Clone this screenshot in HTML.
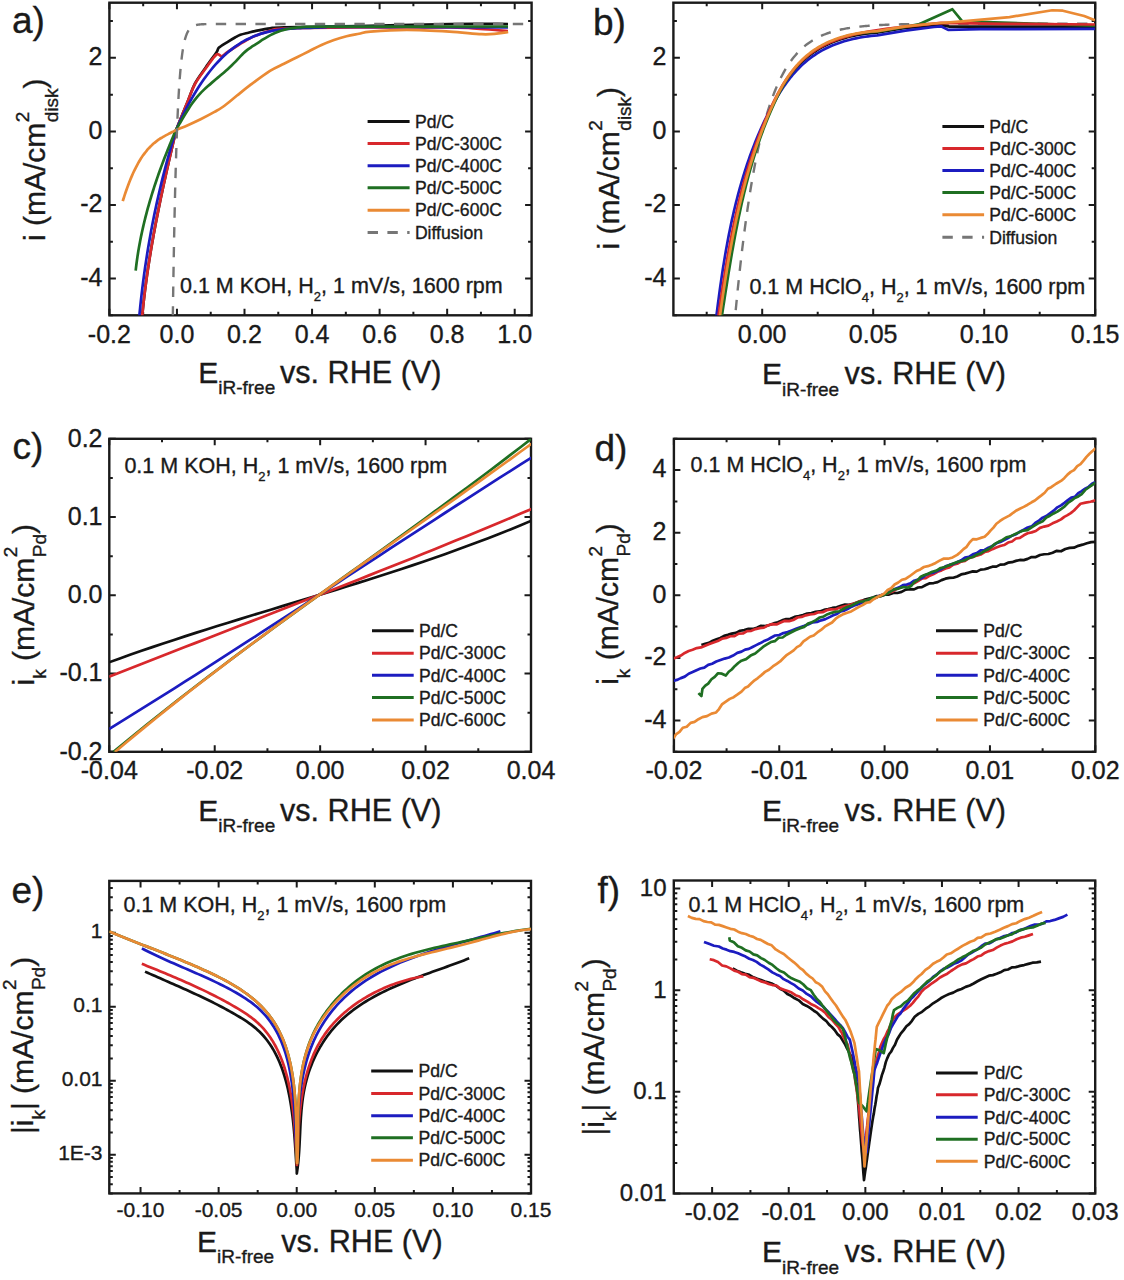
<!DOCTYPE html>
<html><head><meta charset="utf-8"><style>
html,body{margin:0;padding:0;background:#fff;}
svg{display:block;}
text{font-family:"Liberation Sans", sans-serif;fill:#1a1a1a;stroke:#1a1a1a;stroke-width:0.35px;}
</style></head><body>
<svg width="1124" height="1280" viewBox="0 0 1124 1280">
<rect width="1124" height="1280" fill="#fff"/>
<clipPath id="clipa"><rect x="109.4" y="2.7" width="422.2" height="312.6"/></clipPath>
<path d="M109.4 315.3v-6.5M109.4 2.7v6.5M176.95 315.3v-6.5M176.95 2.7v6.5M244.5 315.3v-6.5M244.5 2.7v6.5M312.06 315.3v-6.5M312.06 2.7v6.5M379.61 315.3v-6.5M379.61 2.7v6.5M447.16 315.3v-6.5M447.16 2.7v6.5M514.71 315.3v-6.5M514.71 2.7v6.5M143.18 315.3v-3.5M143.18 2.7v3.5M210.73 315.3v-3.5M210.73 2.7v3.5M278.28 315.3v-3.5M278.28 2.7v3.5M345.83 315.3v-3.5M345.83 2.7v3.5M413.38 315.3v-3.5M413.38 2.7v3.5M480.94 315.3v-3.5M480.94 2.7v3.5M109.4 278.52h6.5M531.6 278.52h-6.5M109.4 204.97h6.5M531.6 204.97h-6.5M109.4 131.42h6.5M531.6 131.42h-6.5M109.4 57.86h6.5M531.6 57.86h-6.5M109.4 315.3h3.5M531.6 315.3h-3.5M109.4 241.75h3.5M531.6 241.75h-3.5M109.4 168.19h3.5M531.6 168.19h-3.5M109.4 94.64h3.5M531.6 94.64h-3.5M109.4 21.09h3.5M531.6 21.09h-3.5" stroke="#1a1a1a" stroke-width="2" fill="none"/>
<rect x="109.4" y="2.7" width="422.2" height="312.6" fill="none" stroke="#1a1a1a" stroke-width="2.4"/>
<text x="109.4" y="343.2" font-size="25" text-anchor="middle">-0.2</text>
<text x="176.95" y="343.2" font-size="25" text-anchor="middle">0.0</text>
<text x="244.5" y="343.2" font-size="25" text-anchor="middle">0.2</text>
<text x="312.06" y="343.2" font-size="25" text-anchor="middle">0.4</text>
<text x="379.61" y="343.2" font-size="25" text-anchor="middle">0.6</text>
<text x="447.16" y="343.2" font-size="25" text-anchor="middle">0.8</text>
<text x="514.71" y="343.2" font-size="25" text-anchor="middle">1.0</text>
<text x="102.5" y="65.06" font-size="25" text-anchor="end">2</text>
<text x="102.5" y="138.62" font-size="25" text-anchor="end">0</text>
<text x="102.5" y="212.17" font-size="25" text-anchor="end">-2</text>
<text x="102.5" y="285.72" font-size="25" text-anchor="end">-4</text>
<path d="M141.04 330C141.13 328.85 141.39 325.41 141.58 323.11C141.77 320.81 141.97 318.52 142.18 316.22C142.39 313.92 142.62 311.63 142.85 309.33C143.08 307.03 143.32 304.74 143.58 302.44C143.83 300.14 144.09 297.85 144.36 295.55C144.64 293.26 144.92 290.96 145.21 288.66C145.5 286.37 145.8 284.07 146.11 281.77C146.42 279.48 146.74 277.18 147.07 274.88C147.4 272.59 147.73 270.29 148.08 267.99C148.42 265.7 148.78 263.4 149.14 261.1C149.5 258.81 149.87 256.51 150.24 254.21C150.62 251.92 151.01 249.62 151.4 247.32C151.79 245.03 152.19 242.73 152.59 240.43C153 238.14 153.41 235.84 153.83 233.54C154.25 231.25 154.68 228.95 155.11 226.66C155.55 224.36 155.99 222.06 156.43 219.77C156.88 217.47 157.33 215.17 157.79 212.88C158.24 210.58 158.71 208.28 159.18 205.99C159.64 203.69 160.12 201.39 160.6 199.1C161.08 196.8 161.56 194.5 162.05 192.21C162.54 189.91 163.03 187.61 163.53 185.32C164.03 183.02 164.53 180.72 165.03 178.43C165.54 176.13 166.05 173.83 166.56 171.54C167.08 169.24 167.6 166.94 168.12 164.65C168.64 162.35 169.16 160.06 169.69 157.76C170.22 155.46 170.75 153.17 171.28 150.87C171.82 148.57 172.35 146.28 172.89 143.98C173.43 141.68 173.97 139.39 174.51 137.09C175.06 134.79 173.93 136.18 176.15 130.2C178.36 124.22 184.66 109 187.8 101.2C190.94 93.4 192.02 89.03 195 83.4C197.98 77.77 202.13 72.57 205.7 67.4C209.27 62.23 214.18 55.7 216.4 52.4C218.62 49.1 217.23 49.28 219 47.6C220.77 45.92 224.33 43.98 227 42.3C229.67 40.62 232.77 38.75 235 37.5C237.23 36.25 238.17 35.6 240.4 34.8C242.63 34 245.97 33.32 248.4 32.7C250.83 32.08 251.4 31.83 255 31.1C258.6 30.37 265.17 28.93 270 28.3C274.83 27.67 269.17 27.68 284 27.3C298.83 26.92 331.33 26.55 359 26C386.67 25.45 425.17 24.33 450 24C474.83 23.67 498.33 24 508 24" stroke="#111111" stroke-width="2.7" fill="none" stroke-linejoin="round" clip-path="url(#clipa)"/>
<path d="M141.04 330C141.13 328.85 141.39 325.41 141.58 323.11C141.77 320.81 141.97 318.52 142.18 316.22C142.39 313.92 142.62 311.63 142.85 309.33C143.08 307.03 143.32 304.74 143.58 302.44C143.83 300.14 144.09 297.85 144.36 295.55C144.64 293.26 144.92 290.96 145.21 288.66C145.5 286.37 145.8 284.07 146.11 281.77C146.42 279.48 146.74 277.18 147.07 274.88C147.4 272.59 147.73 270.29 148.08 267.99C148.42 265.7 148.78 263.4 149.14 261.1C149.5 258.81 149.87 256.51 150.24 254.21C150.62 251.92 151.01 249.62 151.4 247.32C151.79 245.03 152.19 242.73 152.59 240.43C153 238.14 153.41 235.84 153.83 233.54C154.25 231.25 154.68 228.95 155.11 226.66C155.55 224.36 155.99 222.06 156.43 219.77C156.88 217.47 157.33 215.17 157.79 212.88C158.24 210.58 158.71 208.28 159.18 205.99C159.64 203.69 160.12 201.39 160.6 199.1C161.08 196.8 161.56 194.5 162.05 192.21C162.54 189.91 163.03 187.61 163.53 185.32C164.03 183.02 164.53 180.72 165.03 178.43C165.54 176.13 166.05 173.83 166.56 171.54C167.08 169.24 167.6 166.94 168.12 164.65C168.64 162.35 169.16 160.06 169.69 157.76C170.22 155.46 170.75 153.17 171.28 150.87C171.82 148.57 172.35 146.28 172.89 143.98C173.43 141.68 173.97 139.39 174.51 137.09C175.06 134.79 173.93 136.18 176.15 130.2C178.36 124.22 184.66 108.9 187.8 101.2C190.94 93.5 192.02 89.45 195 84C197.98 78.55 202.13 73.4 205.7 68.5C209.27 63.6 213.73 56.65 216.4 54.6C219.07 52.55 219.93 56.57 221.7 56.2C223.47 55.83 224.33 54.18 227 52.4C229.67 50.62 234.13 47.72 237.7 45.5C241.27 43.28 245.52 40.7 248.4 39.1C251.28 37.5 251.4 37.27 255 35.9C258.6 34.53 265.17 32.13 270 30.9C274.83 29.67 269.17 29.07 284 28.5C298.83 27.93 331.33 27.67 359 27.5C386.67 27.33 429.83 27.25 450 27.5C470.17 27.75 470.33 28.42 480 29C489.67 29.58 503.33 30.67 508 31" stroke="#d8282c" stroke-width="2.7" fill="none" stroke-linejoin="round" clip-path="url(#clipa)"/>
<path d="M138.1 330C138.19 328.85 138.48 325.41 138.68 323.11C138.88 320.81 139.09 318.52 139.3 316.22C139.52 313.92 139.74 311.63 139.98 309.33C140.21 307.03 140.45 304.74 140.7 302.44C140.94 300.14 141.2 297.85 141.46 295.55C141.73 293.26 142 290.96 142.28 288.66C142.56 286.37 142.85 284.07 143.15 281.77C143.44 279.48 143.75 277.18 144.06 274.88C144.38 272.59 144.7 270.29 145.03 267.99C145.36 265.7 145.7 263.4 146.05 261.1C146.4 258.81 146.75 256.51 147.12 254.21C147.48 251.92 147.86 249.62 148.24 247.32C148.62 245.03 149.02 242.73 149.42 240.43C149.82 238.14 150.23 235.84 150.65 233.54C151.07 231.25 151.5 228.95 151.93 226.66C152.37 224.36 152.82 222.06 153.28 219.77C153.73 217.47 154.2 215.17 154.67 212.88C155.15 210.58 155.63 208.28 156.13 205.99C156.62 203.69 157.13 201.39 157.64 199.1C158.15 196.8 158.68 194.5 159.21 192.21C159.74 189.91 160.29 187.61 160.84 185.32C161.39 183.02 161.96 180.72 162.53 178.43C163.1 176.13 163.69 173.83 164.28 171.54C164.87 169.24 165.48 166.94 166.09 164.65C166.71 162.35 167.33 160.06 167.97 157.76C168.6 155.46 169.25 153.17 169.9 150.87C170.56 148.57 171.22 146.28 171.9 143.98C172.58 141.68 173.27 139.39 173.96 137.09C174.66 134.79 175.01 133 176.09 130.2C177.17 127.4 179.06 123.26 180.44 120.27C181.82 117.28 183.06 114.84 184.37 112.24C185.68 109.65 187 107.13 188.31 104.7C189.62 102.26 190.93 99.91 192.24 97.62C193.56 95.34 194.87 93.14 196.18 91C197.49 88.87 198.8 86.81 200.12 84.82C201.43 82.83 202.74 80.92 204.05 79.07C205.36 77.22 206.68 75.44 207.99 73.72C209.3 72 210.61 70.35 211.92 68.76C213.24 67.17 214.55 65.65 215.86 64.19C217.17 62.72 218.48 61.32 219.79 59.97C221.11 58.62 222.42 57.34 223.73 56.1C225.04 54.87 226.35 53.69 227.67 52.56C228.98 51.44 230.29 50.37 231.6 49.34C232.91 48.32 234.23 47.35 235.54 46.43C236.85 45.5 238.16 44.62 239.47 43.79C240.79 42.96 242.1 42.17 243.41 41.43C244.72 40.68 246.03 39.98 247.35 39.32C248.66 38.66 249.97 38.04 251.28 37.45C252.59 36.87 253.91 36.32 255.22 35.81C256.53 35.3 257.84 34.82 259.15 34.37C260.47 33.93 261.78 33.52 263.09 33.13C264.4 32.75 265.71 32.4 267.03 32.07C268.34 31.74 269.65 31.45 270.96 31.17C272.27 30.9 273.59 30.65 274.9 30.42C276.21 30.19 277.52 29.99 278.83 29.8C280.15 29.61 281.46 29.45 282.77 29.3C284.08 29.15 285.39 29.02 286.71 28.9C288.02 28.78 289.33 28.68 290.64 28.59C291.95 28.5 293.26 28.42 294.58 28.35C295.89 28.27 297.2 28.22 298.51 28.16C299.82 28.11 301.14 28.06 302.45 28.02C303.76 27.97 305.07 27.93 306.38 27.9C307.7 27.86 309.01 27.82 310.32 27.79C311.63 27.75 312.94 27.71 314.26 27.67C315.57 27.63 316.88 27.59 318.19 27.54C319.5 27.48 320.82 27.43 322.13 27.36C323.44 27.3 324.75 27.23 326.06 27.14C327.38 27.06 299.68 26.79 330 26.85C360.32 26.91 478.33 27.39 508 27.5" stroke="#1c1cc0" stroke-width="2.7" fill="none" stroke-linejoin="round" clip-path="url(#clipa)"/>
<path d="M135.67 270.7C135.76 269.89 136.03 267.47 136.22 265.86C136.42 264.24 136.63 262.63 136.85 261.01C137.07 259.4 137.3 257.78 137.54 256.17C137.78 254.55 138.04 252.94 138.3 251.32C138.57 249.71 138.84 248.09 139.13 246.48C139.42 244.86 139.71 243.25 140.02 241.63C140.33 240.02 140.65 238.4 140.98 236.79C141.31 235.17 141.65 233.56 142 231.94C142.35 230.33 142.71 228.71 143.08 227.1C143.45 225.48 143.83 223.87 144.22 222.25C144.61 220.64 145.01 219.02 145.42 217.41C145.82 215.79 146.24 214.18 146.67 212.56C147.1 210.95 147.54 209.33 147.99 207.72C148.44 206.1 148.89 204.49 149.36 202.87C149.82 201.26 150.3 199.64 150.78 198.03C151.27 196.41 151.76 194.8 152.26 193.18C152.76 191.57 153.28 189.95 153.79 188.34C154.31 186.72 154.84 185.11 155.38 183.49C155.91 181.88 156.46 180.26 157.01 178.65C157.56 177.03 158.13 175.42 158.69 173.8C159.26 172.19 159.84 170.57 160.43 168.96C161.01 167.34 161.6 165.73 162.2 164.11C162.8 162.5 163.41 160.88 164.03 159.27C164.64 157.65 165.27 156.04 165.9 154.42C166.53 152.81 167.16 151.19 167.81 149.58C168.45 147.96 169.11 146.35 169.76 144.73C170.42 143.12 171.09 141.5 171.76 139.89C172.43 138.27 173.11 136.66 173.8 135.04C174.48 133.43 174.77 132.33 175.87 130.2C176.98 128.07 179.02 124.68 180.44 122.24C181.85 119.8 183.06 117.72 184.37 115.55C185.68 113.37 187 111.24 188.31 109.2C189.62 107.17 190.93 105.19 192.24 103.34C193.56 101.49 194.87 99.73 196.18 98.1C197.49 96.48 198.8 95 200.12 93.59C201.43 92.18 202.74 90.91 204.05 89.65C205.36 88.39 206.68 87.21 207.99 86.04C209.3 84.86 210.61 83.73 211.92 82.61C213.24 81.49 214.55 80.39 215.86 79.29C217.17 78.19 218.48 77.1 219.79 76C221.11 74.89 222.42 73.79 223.73 72.66C225.04 71.53 226.35 70.39 227.67 69.2C228.98 68.02 230.29 66.81 231.6 65.54C232.91 64.28 234.23 62.98 235.54 61.61C236.85 60.25 238.16 58.75 239.47 57.35C240.79 55.94 242.1 54.44 243.41 53.19C244.72 51.95 246.03 50.87 247.35 49.85C248.66 48.84 249.97 47.99 251.28 47.11C252.59 46.24 253.91 45.45 255.22 44.6C256.53 43.76 257.84 42.89 259.15 42.04C260.47 41.19 261.78 40.31 263.09 39.48C264.4 38.65 265.71 37.82 267.03 37.05C268.34 36.28 269.65 35.54 270.96 34.87C272.27 34.19 273.59 33.58 274.9 33.01C276.21 32.44 277.52 31.93 278.83 31.47C280.15 31 281.46 30.58 282.77 30.2C284.08 29.82 285.39 29.49 286.71 29.19C288.02 28.89 289.33 28.63 290.64 28.4C291.95 28.17 293.26 27.98 294.58 27.81C295.89 27.64 297.2 27.51 298.51 27.39C299.82 27.27 301.14 27.18 302.45 27.1C303.76 27.03 305.07 26.97 306.38 26.93C307.7 26.88 309.01 26.86 310.32 26.83C311.63 26.81 312.94 26.8 314.26 26.79C315.57 26.78 316.88 26.78 318.19 26.78C319.5 26.77 320.82 26.77 322.13 26.76C323.44 26.75 324.75 26.74 326.06 26.71C327.38 26.68 299.68 26.63 330 26.6C360.32 26.56 478.33 26.52 508 26.5" stroke="#1f6f22" stroke-width="2.7" fill="none" stroke-linejoin="round" clip-path="url(#clipa)"/>
<path d="M122.75 201.09C123.06 200.13 123.97 197.19 124.58 195.34C125.19 193.48 125.8 191.69 126.42 189.95C127.03 188.22 127.64 186.54 128.25 184.92C128.86 183.3 129.47 181.74 130.08 180.23C130.69 178.72 131.3 177.26 131.91 175.86C132.52 174.45 133.14 173.1 133.75 171.79C134.36 170.49 134.97 169.23 135.58 168.02C136.19 166.81 136.8 165.65 137.41 164.53C138.02 163.41 138.63 162.34 139.24 161.31C139.86 160.27 140.47 159.28 141.08 158.33C141.69 157.38 142.3 156.47 142.91 155.59C143.52 154.72 144.13 153.88 144.74 153.07C145.35 152.27 145.96 151.5 146.58 150.76C147.19 150.02 147.8 149.32 148.41 148.64C149.02 147.97 149.63 147.32 150.24 146.7C150.85 146.08 151.46 145.49 152.07 144.93C152.69 144.36 153.3 143.82 153.91 143.3C154.52 142.78 155.13 142.28 155.74 141.81C156.35 141.33 156.96 140.87 157.57 140.43C158.18 139.99 158.79 139.57 159.41 139.17C160.02 138.76 160.63 138.37 161.24 137.99C161.85 137.61 162.46 137.25 163.07 136.89C163.68 136.54 164.29 136.19 164.9 135.86C165.51 135.52 166.13 135.19 166.74 134.87C167.35 134.55 167.96 134.23 168.57 133.92C169.18 133.6 169.79 133.29 170.4 132.98C171.01 132.67 171.62 132.36 172.23 132.05C172.85 131.74 173.46 131.43 174.07 131.11C174.68 130.79 173.61 131.13 175.9 130.15C178.19 129.16 183.6 127.06 187.8 125.2C192 123.34 196.65 121.22 201.1 119C205.55 116.78 210.78 113.98 214.5 111.9C218.22 109.82 219.7 109.18 223.4 106.5C227.1 103.82 232.25 99.35 236.7 95.8C241.15 92.25 244.55 89.35 250.1 85.2C255.65 81.05 264.35 74.48 270 70.9C275.65 67.33 279.58 65.98 284 63.75C288.42 61.52 292.33 59.58 296.5 57.5C300.67 55.42 304.83 53.33 309 51.25C313.17 49.17 317.33 46.88 321.5 45C325.67 43.12 329.83 41.46 334 40C338.17 38.54 342.33 37.29 346.5 36.25C350.67 35.21 355 34.52 359 33.75C363 32.98 362.53 32.24 370.5 31.6C378.47 30.96 393.63 29.9 406.8 29.9C419.97 29.9 437.05 30.88 449.5 31.6C461.95 32.32 473.67 33.85 481.5 34.2C489.33 34.55 492.05 34.07 496.5 33.7C500.95 33.33 506.25 32.28 508.2 32" stroke="#ea8a34" stroke-width="2.7" fill="none" stroke-linejoin="round" clip-path="url(#clipa)"/>
<path d="M172.39 348.91L172.56 335.86L172.73 323.33L172.9 311.31L173.07 299.77L173.24 288.69L173.41 278.06L173.57 267.85L173.74 258.06L173.91 248.66L174.08 239.63L174.25 230.97L174.42 222.66L174.59 214.68L174.76 207.02L174.93 199.67L175.09 192.62L175.26 185.84L175.43 179.34L175.6 173.1L175.77 167.12L175.94 161.37L176.11 155.85L176.28 150.56L176.45 145.47L176.61 140.59L176.78 135.91L176.95 131.42L177.12 127.1L177.29 122.96L177.46 118.99L177.63 115.17L177.8 111.51L177.97 108L178.13 104.63L178.3 101.39L178.47 98.28L178.64 95.3L178.81 92.44L178.98 89.69L179.15 87.05L179.32 84.52L179.49 82.09L179.65 79.76L179.82 77.52L179.99 75.37L180.16 73.31L180.33 71.33L180.5 69.43L180.67 67.6L180.84 65.85L181.01 64.17L181.17 62.56L181.34 61.01L181.51 59.53L181.68 58.1L181.85 56.73L182.02 55.42L182.19 54.16L182.36 52.95L182.53 51.79L182.69 50.67L182.86 49.6L183.03 48.57L183.2 47.59L183.37 46.64L183.54 45.73L183.71 44.86L183.88 44.02L184.04 43.22L184.21 42.45L184.38 41.71L184.55 41L184.72 40.32L184.89 39.66L185.06 39.04L185.23 38.43L185.4 37.85L185.56 37.3L185.73 36.77L185.9 36.25L186.07 35.76L186.24 35.29L186.41 34.84L186.58 34.41L186.75 33.99L186.92 33.59L187.08 33.2L187.25 32.84L187.42 32.48L187.59 32.14L187.76 31.82L187.93 31.5L188.1 31.2L188.27 30.92L188.44 30.64L188.6 30.37L188.77 30.12L188.94 29.87L189.11 29.64L189.28 29.41L189.45 29.2L189.62 28.99L189.79 28.79L189.96 28.6L190.12 28.42L190.29 28.24L190.46 28.07L190.63 27.91L190.8 27.75L190.97 27.6L191.14 27.46L191.31 27.32L191.48 27.19L191.64 27.06L191.81 26.94L191.98 26.82L192.15 26.71L192.32 26.6L192.49 26.5L192.66 26.4L192.83 26.31L193 26.21L193.16 26.13L193.33 26.04L193.5 25.96L193.67 25.88L193.84 25.81L194.01 25.74L194.18 25.67L194.35 25.6L194.52 25.54L194.68 25.48L194.85 25.42L195.02 25.37L195.19 25.31L195.36 25.26L195.53 25.21L195.7 25.16L195.87 25.12L196.04 25.07L196.2 25.03L196.37 24.99L196.54 24.95L196.71 24.92L196.88 24.88L197.05 24.85L197.22 24.81L197.39 24.78L197.56 24.75L197.72 24.72L197.89 24.7L198.06 24.67L198.23 24.64L198.4 24.62L198.57 24.59L198.74 24.57L198.91 24.55L199.08 24.53L199.24 24.51L199.41 24.49L199.58 24.47L199.75 24.45L199.92 24.44L200.09 24.42L200.26 24.41L200.43 24.39L200.6 24.38L200.76 24.36L200.93 24.35L201.1 24.34L201.27 24.32L201.44 24.31L201.61 24.3L201.78 24.29L201.95 24.28L202.12 24.27L202.28 24.26L202.45 24.25L202.62 24.24L202.79 24.23L202.96 24.22L203.13 24.22L203.3 24.21L203.47 24.2L203.64 24.2L203.8 24.19L203.97 24.18L204.14 24.18L204.31 24.17L204.48 24.16L204.65 24.16L204.82 24.15L204.99 24.15L205.15 24.14L205.32 24.14L205.49 24.14L205.66 24.13L205.83 24.13L206 24.12L206.17 24.12L206.34 24.12L206.51 24.11L206.67 24.11L206.84 24.11L207.01 24.1L207.18 24.1L207.35 24.1L207.52 24.09L207.69 24.09L207.86 24.09L208.03 24.09L208.19 24.08L208.36 24.08L208.53 24.08L208.7 24.08L208.87 24.08L209.04 24.07L209.21 24.07L209.38 24.07L209.55 24.07L209.71 24.07L209.88 24.07L210.05 24.07L210.22 24.06L210.39 24.06L210.56 24.06L210.73 24.06L210.9 24.06L211.07 24.06L211.23 24.06L211.4 24.06L211.57 24.05L211.74 24.05L211.91 24.05L212.08 24.05L212.25 24.05L212.42 24.05L212.59 24.05L212.75 24.05L212.92 24.05L213.09 24.05L213.26 24.05L213.43 24.05L213.6 24.05L213.77 24.04L213.94 24.04L214.11 24.04L214.27 24.04L214.44 24.04L214.61 24.04L214.78 24.04L214.95 24.04L215.12 24.04L215.29 24.04L215.46 24.04L215.63 24.04L215.79 24.04L215.96 24.04L216.13 24.04L216.3 24.04L216.47 24.04L216.64 24.04L216.81 24.04L216.98 24.04L217.15 24.04L217.31 24.04L217.48 24.04L531.6 24.03" stroke="#767676" stroke-width="2.4" fill="none" stroke-linejoin="round" stroke-dasharray="10.4 9.4" stroke-dashoffset="7.4" clip-path="url(#clipa)"/>
<path d="M367.6 121.6H409.6" stroke="#111111" stroke-width="3.0"/>
<text x="414.9" y="127.8" font-size="17.6" text-anchor="start">Pd/C</text>
<path d="M367.6 143.6H409.6" stroke="#d8282c" stroke-width="3.0"/>
<text x="414.9" y="149.8" font-size="17.6" text-anchor="start">Pd/C-300C</text>
<path d="M367.6 165.7H409.6" stroke="#1c1cc0" stroke-width="3.0"/>
<text x="414.9" y="171.9" font-size="17.6" text-anchor="start">Pd/C-400C</text>
<path d="M367.6 187.8H409.6" stroke="#1f6f22" stroke-width="3.0"/>
<text x="414.9" y="194" font-size="17.6" text-anchor="start">Pd/C-500C</text>
<path d="M367.6 210.2H409.6" stroke="#ea8a34" stroke-width="3.0"/>
<text x="414.9" y="216.4" font-size="17.6" text-anchor="start">Pd/C-600C</text>
<path d="M367.6 232.6H409.6" stroke="#767676" stroke-width="3.0" stroke-dasharray="10.4 9.4"/>
<text x="414.9" y="238.8" font-size="17.6" text-anchor="start">Diffusion</text>
<text x="180" y="292.7" font-size="21.5" xml:space="preserve">0.1 M KOH, H<tspan font-size="13" dy="8">2</tspan><tspan dy="-8">, 1 mV/s, 1600 rpm</tspan></text>
<text x="198.2" y="382.8" font-size="30">E<tspan font-size="19" dy="11.5">iR-free</tspan></text><text x="280" y="382.8" font-size="30.6" text-anchor="start">vs. RHE (V)</text>
<g transform="translate(45.3 241) rotate(-90)"><text x="0" y="0" font-size="30">i (mA/cm</text><text x="118.82" y="-16.5" font-size="19">2</text><text x="118.82" y="12.5" font-size="19">disk</text><text x="152.6" y="0" font-size="30">)</text></g>
<text x="12" y="33" font-size="37" text-anchor="start">a)</text>
<clipPath id="clipb"><rect x="673.4" y="2.7" width="421.8" height="312.6"/></clipPath>
<path d="M762.2 315.3v-6.5M762.2 2.7v6.5M873.2 315.3v-6.5M873.2 2.7v6.5M984.2 315.3v-6.5M984.2 2.7v6.5M1095.2 315.3v-6.5M1095.2 2.7v6.5M706.7 315.3v-3.5M706.7 2.7v3.5M817.7 315.3v-3.5M817.7 2.7v3.5M928.7 315.3v-3.5M928.7 2.7v3.5M1039.7 315.3v-3.5M1039.7 2.7v3.5M673.4 278.52h6.5M1095.2 278.52h-6.5M673.4 204.97h6.5M1095.2 204.97h-6.5M673.4 131.42h6.5M1095.2 131.42h-6.5M673.4 57.86h6.5M1095.2 57.86h-6.5M673.4 315.3h3.5M1095.2 315.3h-3.5M673.4 241.75h3.5M1095.2 241.75h-3.5M673.4 168.19h3.5M1095.2 168.19h-3.5M673.4 94.64h3.5M1095.2 94.64h-3.5M673.4 21.09h3.5M1095.2 21.09h-3.5" stroke="#1a1a1a" stroke-width="2" fill="none"/>
<rect x="673.4" y="2.7" width="421.8" height="312.6" fill="none" stroke="#1a1a1a" stroke-width="2.4"/>
<text x="762.2" y="342.9" font-size="25" text-anchor="middle">0.00</text>
<text x="873.2" y="342.9" font-size="25" text-anchor="middle">0.05</text>
<text x="984.2" y="342.9" font-size="25" text-anchor="middle">0.10</text>
<text x="1095.2" y="342.9" font-size="25" text-anchor="middle">0.15</text>
<text x="666.5" y="65.06" font-size="25" text-anchor="end">2</text>
<text x="666.5" y="138.62" font-size="25" text-anchor="end">0</text>
<text x="666.5" y="212.17" font-size="25" text-anchor="end">-2</text>
<text x="666.5" y="285.72" font-size="25" text-anchor="end">-4</text>
<path d="M732.23 349.65L733.34 336.56L734.45 323.99L735.56 311.92L736.67 300.34L737.78 289.23L738.89 278.56L740 268.32L741.11 258.49L742.22 249.06L743.33 240L744.44 231.31L745.55 222.97L746.66 214.97L747.77 207.28L748.88 199.91L749.99 192.83L751.1 186.03L752.21 179.51L753.32 173.25L754.43 167.24L755.54 161.47L756.65 155.93L757.76 150.62L758.87 145.52L759.98 140.63L761.09 135.93L762.2 131.42L763.31 127.09L764.42 122.93L765.53 118.95L766.64 115.12L767.75 111.44L768.86 107.92L769.97 104.53L771.08 101.29L772.19 98.17L773.3 95.17L774.41 92.3L775.52 89.54L776.63 86.9L777.74 84.36L778.85 81.92L779.96 79.58L781.07 77.33L782.18 75.18L783.29 73.11L784.4 71.12L785.51 69.21L786.62 67.38L787.73 65.63L788.84 63.94L789.95 62.32L791.06 60.77L792.17 59.28L793.28 57.85L794.39 56.48L795.5 55.16L796.61 53.89L797.72 52.68L798.83 51.51L799.94 50.39L801.05 49.32L802.16 48.29L803.27 47.3L804.38 46.35L805.49 45.44L806.6 44.56L807.71 43.73L808.82 42.92L809.93 42.15L811.04 41.4L812.15 40.69L813.26 40.01L814.37 39.35L815.48 38.72L816.59 38.11L817.7 37.53L818.81 36.98L819.92 36.44L821.03 35.93L822.14 35.44L823.25 34.96L824.36 34.51L825.47 34.07L826.58 33.66L827.69 33.25L828.8 32.87L829.91 32.5L831.02 32.14L832.13 31.8L833.24 31.48L834.35 31.16L835.46 30.86L836.57 30.57L837.68 30.29L838.79 30.03L839.9 29.77L841.01 29.53L842.12 29.29L843.23 29.07L844.34 28.85L845.45 28.64L846.56 28.44L847.67 28.25L848.78 28.06L849.89 27.89L851 27.72L852.11 27.55L853.22 27.4L854.33 27.25L855.44 27.1L856.55 26.97L857.66 26.83L858.77 26.71L859.88 26.58L860.99 26.47L862.1 26.35L863.21 26.25L864.32 26.14L865.43 26.04L866.54 25.95L867.65 25.85L868.76 25.77L869.87 25.68L870.98 25.6L872.09 25.52L873.2 25.45L874.31 25.38L875.42 25.31L876.53 25.24L877.64 25.18L878.75 25.12L879.86 25.06L880.97 25L882.08 24.95L883.19 24.9L884.3 24.85L885.41 24.8L886.52 24.75L887.63 24.71L888.74 24.67L889.85 24.63L890.96 24.59L892.07 24.55L893.18 24.52L894.29 24.48L895.4 24.45L896.51 24.42L897.62 24.39L898.73 24.36L899.84 24.33L900.95 24.3L902.06 24.28L903.17 24.25L904.28 24.23L905.39 24.21L906.5 24.18L907.61 24.16L908.72 24.14L909.83 24.12L910.94 24.11L912.05 24.09L913.16 24.07L914.27 24.05L915.38 24.04L916.49 24.02L917.6 24.01L918.71 24L919.82 23.98L920.93 23.97L922.04 23.96L923.15 23.94L924.26 23.93L925.37 23.92L926.48 23.91L927.59 23.9L928.7 23.89L929.81 23.88L930.92 23.87L932.03 23.87L933.14 23.86L934.25 23.85L935.36 23.84L936.47 23.84L937.58 23.83L938.69 23.82L939.8 23.82L940.91 23.81L942.02 23.8L943.13 23.8L944.24 23.79L945.35 23.79L946.46 23.78L947.57 23.78L948.68 23.77L949.79 23.77L950.9 23.76L952.01 23.76L953.12 23.76L954.23 23.75L955.34 23.75L956.45 23.75L957.56 23.74L958.67 23.74L959.78 23.74L960.89 23.73L962 23.73L963.11 23.73L964.22 23.72L965.33 23.72L966.44 23.72L967.55 23.72L968.66 23.72L969.77 23.71L970.88 23.71L971.99 23.71L973.1 23.71L974.21 23.71L975.32 23.7L976.43 23.7L977.54 23.7L978.65 23.7L979.76 23.7L980.87 23.7L981.98 23.69L983.09 23.69L984.2 23.69L985.31 23.69L986.42 23.69L987.53 23.69L988.64 23.69L989.75 23.69L990.86 23.69L991.97 23.68L993.08 23.68L994.19 23.68L995.3 23.68L996.41 23.68L997.52 23.68L998.63 23.68L999.74 23.68L1000.85 23.68L1001.96 23.68L1003.07 23.68L1004.18 23.68L1005.29 23.68L1006.4 23.68L1007.51 23.68L1008.62 23.67L1009.73 23.67L1010.84 23.67L1011.95 23.67L1013.06 23.67L1014.17 23.67L1015.28 23.67L1016.39 23.67L1017.5 23.67L1018.61 23.67L1019.72 23.67L1020.83 23.67L1021.94 23.67L1023.05 23.67L1024.16 23.67L1025.27 23.67L1026.38 23.67L1027.49 23.67L1028.6 23.67L1095.2 23.66" stroke="#767676" stroke-width="2.4" fill="none" stroke-linejoin="round" stroke-dasharray="10.4 9.4" stroke-dashoffset="0" clip-path="url(#clipb)"/>
<path d="M718.8 319.8L719.24 316.88L719.68 313.95L720.12 311.01L720.56 308.08L721 305.14L721.45 302.19L721.89 299.25L722.34 296.3L722.79 293.35L723.25 290.4L723.7 287.44L724.16 284.48L724.63 281.52L725.1 278.56L725.57 275.6L726.05 272.64L726.54 269.67L727.03 266.7L727.52 263.74L728.02 260.77L728.53 257.8L729.05 254.84L729.57 251.87L730.1 248.9L730.63 245.94L731.18 242.97L731.73 240L732.3 237.04L732.87 234.08L733.45 231.11L734.04 228.15L734.64 225.2L735.25 222.24L735.87 219.28L736.5 216.33L737.14 213.38L737.79 210.44L738.46 207.49L739.14 204.55L739.83 201.61L740.53 198.68L741.25 195.75L741.97 192.82L742.72 189.9L743.47 186.98L744.24 184.06L745.03 181.15L745.83 178.25L746.64 175.35L747.48 172.45L748.32 169.56L749.18 166.67L750.06 163.8L750.96 160.92L751.87 158.05L752.8 155.19L753.75 152.34L754.72 149.49L755.7 146.65L756.7 143.81L757.72 140.99L758.76 138.17L759.82 135.35L760.9 132.55L762 129.75L763.12 126.96L764.27 124.18L765.43 121.41L766.61 118.65L767.82 115.89L769.04 113.15L770.29 110.41L771.57 107.68L772.86 104.96L774.18 102.26L775.53 99.57L776.91 96.9L778.32 94.24L779.77 91.62L781.26 89.02L782.79 86.44L784.37 83.91L785.99 81.4L787.66 78.94L789.39 76.52L791.17 74.14L793.01 71.81L794.91 69.53L796.86 67.3L798.88 65.13L800.94 63.02L803.07 60.97L805.26 58.98L807.5 57.07L809.8 55.22L812.16 53.45L814.58 51.75L817.05 50.14L819.58 48.6L822.17 47.14L824.8 45.75L827.48 44.44L830.21 43.21L832.98 42.04L835.79 40.95L838.64 39.93L841.52 38.97L844.44 38.09L847.38 37.27L850.36 36.52L853.36 35.83L856.38 35.21L859.42 34.64L862.47 34.14L865.54 33.7L868.63 33.32L871.72 33L874.82 32.74L877.93 32.53L905.4 28L933.9 26L941 25.2L949.7 26.7L1094.9 26.7" stroke="#111111" stroke-width="2.7" fill="none" stroke-linejoin="round" clip-path="url(#clipb)"/>
<path d="M715.94 319.87L716.3 316.94L716.66 314.01L717.03 311.07L717.4 308.14L717.78 305.2L718.16 302.25L718.55 299.31L718.94 296.36L719.34 293.41L719.74 290.46L720.15 287.51L720.57 284.56L720.99 281.6L721.42 278.65L721.86 275.69L722.31 272.74L722.76 269.78L723.23 266.82L723.7 263.86L724.18 260.91L724.67 257.95L725.17 255L725.68 252.04L726.2 249.09L726.73 246.14L727.27 243.19L727.82 240.24L728.38 237.29L728.96 234.35L729.54 231.4L730.14 228.46L730.75 225.52L731.37 222.59L732.01 219.66L732.66 216.73L733.33 213.8L734 210.88L734.69 207.96L735.4 205.05L736.12 202.14L736.86 199.23L737.61 196.33L738.38 193.44L739.16 190.55L739.96 187.66L740.77 184.78L741.61 181.9L742.46 179.03L743.32 176.17L744.21 173.31L745.11 170.46L746.03 167.62L746.97 164.78L747.93 161.95L748.91 159.13L749.9 156.31L750.92 153.5L751.96 150.7L753.02 147.91L754.09 145.12L755.19 142.34L756.31 139.58L757.45 136.82L758.62 134.06L759.8 131.32L761.01 128.59L762.24 125.87L763.49 123.15L764.77 120.45L766.07 117.75L767.39 115.07L768.74 112.4L770.11 109.74L771.51 107.08L772.93 104.44L774.38 101.82L775.86 99.21L777.38 96.63L778.93 94.07L780.51 91.53L782.13 89.02L783.8 86.55L785.5 84.11L787.26 81.7L789.05 79.34L790.9 77.01L792.8 74.74L794.75 72.51L796.75 70.33L798.8 68.2L800.9 66.13L803.06 64.12L805.26 62.16L807.52 60.28L809.83 58.46L812.19 56.7L814.61 55.02L817.08 53.42L819.6 51.89L822.17 50.43L824.78 49.05L827.44 47.73L830.14 46.49L832.88 45.32L835.66 44.21L838.47 43.18L841.32 42.21L844.2 41.3L847.1 40.46L850.04 39.69L852.99 38.97L855.97 38.32L858.97 37.73L861.98 37.2L865.01 36.73L868.05 36.31L871.1 35.96L874.16 35.65L877.23 35.4L905.4 30.6L933.9 27L941 26.3L948.1 29.9L980 29.2L1094.9 28.8" stroke="#1c1cc0" stroke-width="2.7" fill="none" stroke-linejoin="round" clip-path="url(#clipb)"/>
<path d="M721.24 319.8L721.7 316.88L722.16 313.95L722.61 311.01L723.07 308.07L723.52 305.13L723.98 302.19L724.44 299.24L724.9 296.29L725.36 293.34L725.82 290.39L726.29 287.43L726.75 284.48L727.22 281.52L727.7 278.56L728.17 275.59L728.65 272.63L729.14 269.67L729.63 266.7L730.12 263.73L730.62 260.77L731.13 257.8L731.64 254.83L732.15 251.87L732.67 248.9L733.2 245.93L733.74 242.96L734.28 240L734.83 237.03L735.39 234.07L735.96 231.11L736.53 228.14L737.12 225.18L737.71 222.22L738.31 219.27L738.92 216.31L739.55 213.36L740.18 210.41L740.82 207.46L741.48 204.51L742.14 201.57L742.82 198.63L743.51 195.7L744.21 192.76L744.92 189.83L745.65 186.91L746.39 183.98L747.14 181.06L747.91 178.15L748.69 175.24L749.49 172.33L750.3 169.43L751.12 166.54L751.97 163.64L752.82 160.76L753.7 157.88L754.58 155L755.49 152.13L756.41 149.27L757.35 146.41L758.31 143.56L759.29 140.71L760.28 137.87L761.29 135.04L762.32 132.21L763.37 129.4L764.44 126.58L765.53 123.78L766.64 120.98L767.77 118.19L768.92 115.41L770.09 112.64L771.29 109.87L772.5 107.12L773.74 104.37L775 101.63L776.29 98.91L777.61 96.21L778.97 93.53L780.36 90.87L781.8 88.24L783.28 85.63L784.8 83.07L786.37 80.53L788 78.04L789.68 75.59L791.42 73.18L793.22 70.82L795.08 68.52L796.99 66.27L798.97 64.07L801.01 61.94L803.11 59.87L805.27 57.86L807.49 55.93L809.77 54.07L812.11 52.28L814.52 50.58L816.98 48.95L819.5 47.4L822.08 45.93L824.71 44.54L827.39 43.23L830.12 41.99L832.89 40.82L835.7 39.73L838.55 38.71L841.44 37.76L844.36 36.88L847.31 36.07L850.29 35.33L853.3 34.65L856.33 34.04L859.38 33.49L862.44 33.01L865.53 32.59L868.62 32.24L871.72 31.94L874.83 31.7L877.94 31.53L905.4 26.8L919.6 24L952.4 9.25L962.3 21.4L1094.9 25.6" stroke="#1f6f22" stroke-width="2.7" fill="none" stroke-linejoin="round" clip-path="url(#clipb)"/>
<path d="M717.88 319.83L718.32 316.69L718.77 313.55L719.21 310.4L719.67 307.26L720.12 304.1L720.58 300.95L721.05 297.8L721.51 294.64L721.99 291.48L722.47 288.32L722.95 285.15L723.44 281.99L723.94 278.83L724.44 275.66L724.95 272.49L725.47 269.33L725.99 266.16L726.52 262.99L727.07 259.82L727.61 256.66L728.17 253.49L728.74 250.32L729.32 247.16L729.9 243.99L730.5 240.83L731.11 237.67L731.73 234.51L732.36 231.35L733 228.19L733.65 225.04L734.31 221.88L734.99 218.73L735.68 215.59L736.38 212.44L737.1 209.3L737.83 206.17L738.57 203.03L739.33 199.9L740.11 196.77L740.9 193.65L741.7 190.53L742.52 187.42L743.36 184.31L744.21 181.21L745.08 178.11L745.96 175.01L746.87 171.92L747.79 168.84L748.73 165.76L749.68 162.69L750.66 159.62L751.66 156.57L752.67 153.51L753.71 150.47L754.76 147.43L755.83 144.4L756.93 141.37L758.05 138.35L759.18 135.34L760.34 132.34L761.52 129.35L762.73 126.36L763.95 123.39L765.2 120.42L766.48 117.46L767.77 114.51L769.09 111.57L770.44 108.63L771.8 105.71L773.2 102.8L774.62 99.91L776.08 97.03L777.58 94.18L779.11 91.35L780.69 88.55L782.31 85.79L783.99 83.07L785.72 80.38L787.5 77.75L789.34 75.16L791.25 72.63L793.22 70.15L795.26 67.73L797.36 65.38L799.52 63.09L801.76 60.88L804.05 58.75L806.42 56.69L808.85 54.72L811.35 52.83L813.91 51.04L816.54 49.33L819.24 47.72L821.99 46.2L824.81 44.75L827.67 43.39L830.59 42.11L833.55 40.9L836.56 39.76L839.6 38.7L842.68 37.69L845.79 36.75L848.93 35.87L852.1 35.04L855.28 34.26L858.49 33.53L861.71 32.85L864.94 32.22L868.18 31.62L871.43 31.06L874.67 30.53L877.91 30.03L881.15 29.56L884.37 29.11L887.59 28.69L890.78 28.28L893.96 27.88L897.11 27.5L900.24 27.13L941 22.8L1000 23.8L1094.9 24.5" stroke="#d8282c" stroke-width="2.7" fill="none" stroke-linejoin="round" clip-path="url(#clipb)"/>
<path d="M719.38 319.85L719.79 316.9L720.21 313.95L720.62 311L721.05 308.04L721.47 305.08L721.9 302.12L722.33 299.16L722.77 296.2L723.21 293.23L723.66 290.27L724.11 287.3L724.57 284.33L725.03 281.36L725.5 278.39L725.98 275.42L726.46 272.45L726.94 269.48L727.44 266.5L727.94 263.53L728.45 260.56L728.96 257.59L729.49 254.62L730.02 251.65L730.56 248.68L731.1 245.71L731.66 242.74L732.23 239.77L732.8 236.81L733.38 233.84L733.98 230.88L734.58 227.92L735.19 224.96L735.81 222L736.45 219.05L737.09 216.09L737.74 213.14L738.41 210.19L739.09 207.25L739.78 204.31L740.48 201.37L741.19 198.43L741.92 195.5L742.65 192.57L743.4 189.64L744.17 186.72L744.94 183.8L745.73 180.89L746.54 177.97L747.36 175.07L748.19 172.17L749.03 169.27L749.9 166.38L750.77 163.49L751.66 160.61L752.57 157.73L753.49 154.86L754.43 151.99L755.38 149.13L756.36 146.27L757.34 143.42L758.35 140.58L759.37 137.74L760.41 134.91L761.46 132.09L762.53 129.27L763.63 126.46L764.73 123.65L765.86 120.86L767.01 118.06L768.17 115.28L769.36 112.51L770.56 109.74L771.79 106.98L773.03 104.23L774.3 101.49L775.59 98.76L776.91 96.05L778.27 93.36L779.66 90.69L781.09 88.05L782.56 85.44L784.08 82.86L785.65 80.32L787.27 77.82L788.94 75.35L790.68 72.94L792.47 70.57L794.33 68.25L796.24 65.99L798.22 63.78L800.26 61.64L802.36 59.56L804.52 57.54L806.74 55.6L809.03 53.72L811.38 51.93L813.79 50.21L816.26 48.58L818.79 47.02L821.38 45.55L824.02 44.15L826.71 42.83L829.45 41.58L832.23 40.41L835.06 39.32L837.92 38.29L840.82 37.34L843.75 36.46L846.71 35.65L849.7 34.9L852.71 34.23L855.74 33.62L858.79 33.07L861.86 32.59L864.93 32.17L868.02 31.82L871.11 31.52L874.2 31.29L877.3 31.11L905.4 26.3L933.9 23.5L962.3 21.4L1009.5 17.1L1052.2 10.25L1062.9 10.7L1084.2 16L1094.9 20.3" stroke="#ea8a34" stroke-width="2.7" fill="none" stroke-linejoin="round" clip-path="url(#clipb)"/>
<path d="M942.4 126.4H984.1" stroke="#111111" stroke-width="3.0"/>
<text x="989.2" y="132.6" font-size="17.6" text-anchor="start">Pd/C</text>
<path d="M942.4 148.5H984.1" stroke="#d8282c" stroke-width="3.0"/>
<text x="989.2" y="154.7" font-size="17.6" text-anchor="start">Pd/C-300C</text>
<path d="M942.4 170.5H984.1" stroke="#1c1cc0" stroke-width="3.0"/>
<text x="989.2" y="176.7" font-size="17.6" text-anchor="start">Pd/C-400C</text>
<path d="M942.4 192.6H984.1" stroke="#1f6f22" stroke-width="3.0"/>
<text x="989.2" y="198.8" font-size="17.6" text-anchor="start">Pd/C-500C</text>
<path d="M942.4 214.8H984.1" stroke="#ea8a34" stroke-width="3.0"/>
<text x="989.2" y="221" font-size="17.6" text-anchor="start">Pd/C-600C</text>
<path d="M942.4 237.3H984.1" stroke="#767676" stroke-width="3.0" stroke-dasharray="10.4 9.4"/>
<text x="989.2" y="243.5" font-size="17.6" text-anchor="start">Diffusion</text>
<text x="749.4" y="293.6" font-size="21.5" xml:space="preserve">0.1 M HClO<tspan font-size="13" dy="8">4</tspan><tspan dy="-8">, H</tspan><tspan font-size="13" dy="8">2</tspan><tspan dy="-8">, 1 mV/s, 1600 rpm</tspan></text>
<text x="762.1" y="384" font-size="30">E<tspan font-size="19" dy="11.5">iR-free</tspan></text><text x="844.6" y="384" font-size="30.6" text-anchor="start">vs. RHE (V)</text>
<g transform="translate(618.5 249.5) rotate(-90)"><text x="0" y="0" font-size="30">i (mA/cm</text><text x="118.82" y="-16.5" font-size="19">2</text><text x="118.82" y="12.5" font-size="19">disk</text><text x="152.6" y="0" font-size="30">)</text></g>
<text x="593" y="34.5" font-size="37" text-anchor="start">b)</text>
<clipPath id="clipc"><rect x="109.3" y="438.8" width="421.7" height="313"/></clipPath>
<path d="M109.3 751.8v-6.5M109.3 438.8v6.5M214.72 751.8v-6.5M214.72 438.8v6.5M320.15 751.8v-6.5M320.15 438.8v6.5M425.57 751.8v-6.5M425.57 438.8v6.5M531 751.8v-6.5M531 438.8v6.5M162.01 751.8v-3.5M162.01 438.8v3.5M267.44 751.8v-3.5M267.44 438.8v3.5M372.86 751.8v-3.5M372.86 438.8v3.5M478.29 751.8v-3.5M478.29 438.8v3.5M109.3 751.8h6.5M531 751.8h-6.5M109.3 673.55h6.5M531 673.55h-6.5M109.3 595.3h6.5M531 595.3h-6.5M109.3 517.05h6.5M531 517.05h-6.5M109.3 438.8h6.5M531 438.8h-6.5M109.3 712.67h3.5M531 712.67h-3.5M109.3 634.42h3.5M531 634.42h-3.5M109.3 556.17h3.5M531 556.17h-3.5M109.3 477.92h3.5M531 477.92h-3.5" stroke="#1a1a1a" stroke-width="2" fill="none"/>
<rect x="109.3" y="438.8" width="421.7" height="313" fill="none" stroke="#1a1a1a" stroke-width="2.4"/>
<text x="109.3" y="778.6" font-size="25" text-anchor="middle">-0.04</text>
<text x="214.72" y="778.6" font-size="25" text-anchor="middle">-0.02</text>
<text x="320.15" y="778.6" font-size="25" text-anchor="middle">0.00</text>
<text x="425.57" y="778.6" font-size="25" text-anchor="middle">0.02</text>
<text x="531" y="778.6" font-size="25" text-anchor="middle">0.04</text>
<text x="102.5" y="446.5" font-size="25" text-anchor="end">0.2</text>
<text x="102.5" y="524.75" font-size="25" text-anchor="end">0.1</text>
<text x="102.5" y="603" font-size="25" text-anchor="end">0.0</text>
<text x="102.5" y="681.25" font-size="25" text-anchor="end">-0.1</text>
<text x="102.5" y="759.5" font-size="25" text-anchor="end">-0.2</text>
<path d="M109 662.34L119.83 658.43L130.67 654.59L141.5 650.82L152.33 647.12L163.17 643.49L174 639.91L184.83 636.38L195.67 632.9L206.5 629.46L217.33 626.06L228.17 622.69L239 619.35L249.83 616.03L260.67 612.72L271.5 609.43L282.33 606.14L293.17 602.86L304 599.57L314.83 596.27L325.67 592.96L336.5 589.63L347.33 586.28L358.17 582.89L369 579.47L379.83 576.02L390.67 572.52L401.5 568.97L412.33 565.36L423.17 561.7L434 557.97L444.83 554.17L455.67 550.3L466.5 546.34L477.33 542.3L488.17 538.18L499 533.95L509.83 529.63L520.67 525.2L531.5 520.66" stroke="#111111" stroke-width="2.7" fill="none" stroke-linejoin="round" clip-path="url(#clipc)"/>
<path d="M109 676.74L119.83 672.47L130.67 668.21L141.5 663.97L152.33 659.73L163.17 655.5L174 651.29L184.83 647.07L195.67 642.87L206.5 638.66L217.33 634.46L228.17 630.27L239 626.07L249.83 621.87L260.67 617.68L271.5 613.48L282.33 609.27L293.17 605.06L304 600.85L314.83 596.63L325.67 592.4L336.5 588.16L347.33 583.91L358.17 579.65L369 575.37L379.83 571.09L390.67 566.78L401.5 562.47L412.33 558.13L423.17 553.78L434 549.4L444.83 545.01L455.67 540.59L466.5 536.16L477.33 531.69L488.17 527.21L499 522.69L509.83 518.15L520.67 513.59L531.5 508.99" stroke="#d8282c" stroke-width="2.7" fill="none" stroke-linejoin="round" clip-path="url(#clipc)"/>
<path d="M109 729.07L119.83 722.4L130.67 715.7L141.5 708.96L152.33 702.18L163.17 695.38L174 688.54L184.83 681.68L195.67 674.78L206.5 667.87L217.33 660.93L228.17 653.97L239 646.99L249.83 639.99L260.67 632.97L271.5 625.94L282.33 618.9L293.17 611.85L304 604.79L314.83 597.72L325.67 590.65L336.5 583.57L347.33 576.49L358.17 569.41L369 562.34L379.83 555.26L390.67 548.2L401.5 541.14L412.33 534.08L423.17 527.04L434 520.02L444.83 513L455.67 506L466.5 499.03L477.33 492.07L488.17 485.13L499 478.21L509.83 471.32L520.67 464.46L531.5 457.63" stroke="#1c1cc0" stroke-width="2.7" fill="none" stroke-linejoin="round" clip-path="url(#clipc)"/>
<path d="M113.5 751.86L124.22 743L134.94 734.23L145.65 725.57L156.37 716.99L167.09 708.51L177.81 700.11L188.53 691.79L199.24 683.54L209.96 675.36L220.68 667.25L231.4 659.19L242.12 651.19L252.83 643.24L263.55 635.34L274.27 627.48L284.99 619.65L295.71 611.86L306.42 604.09L317.14 596.34L327.86 588.61L338.58 580.89L349.29 573.18L360.01 565.48L370.73 557.77L381.45 550.05L392.17 542.32L402.88 534.58L413.6 526.81L424.32 519.02L435.04 511.2L445.76 503.34L456.47 495.45L467.19 487.5L477.91 479.51L488.63 471.46L499.35 463.36L510.06 455.19L520.78 446.95L531.5 438.64" stroke="#1f6f22" stroke-width="2.7" fill="none" stroke-linejoin="round" clip-path="url(#clipc)"/>
<path d="M114.9 752L125.58 743.02L136.26 734.15L146.95 725.38L157.63 716.72L168.31 708.14L178.99 699.66L189.67 691.27L200.36 682.96L211.04 674.73L221.72 666.57L232.4 658.48L243.08 650.46L253.77 642.5L264.45 634.6L275.13 626.75L285.81 618.95L296.49 611.2L307.18 603.49L317.86 595.82L328.54 588.18L339.22 580.56L349.91 572.98L360.59 565.41L371.27 557.86L381.95 550.32L392.63 542.79L403.32 535.26L414 527.74L424.68 520.21L435.36 512.66L446.04 505.11L456.73 497.54L467.41 489.95L478.09 482.33L488.77 474.69L499.45 467.01L510.14 459.29L520.82 451.53L531.5 443.72" stroke="#ea8a34" stroke-width="2.7" fill="none" stroke-linejoin="round" clip-path="url(#clipc)"/>
<path d="M372 630.8H413.7" stroke="#111111" stroke-width="3.0"/>
<text x="418.9" y="637" font-size="17.6" text-anchor="start">Pd/C</text>
<path d="M372 653.2H413.7" stroke="#d8282c" stroke-width="3.0"/>
<text x="418.9" y="659.4" font-size="17.6" text-anchor="start">Pd/C-300C</text>
<path d="M372 675.3H413.7" stroke="#1c1cc0" stroke-width="3.0"/>
<text x="418.9" y="681.5" font-size="17.6" text-anchor="start">Pd/C-400C</text>
<path d="M372 697.6H413.7" stroke="#1f6f22" stroke-width="3.0"/>
<text x="418.9" y="703.8" font-size="17.6" text-anchor="start">Pd/C-500C</text>
<path d="M372 719.9H413.7" stroke="#ea8a34" stroke-width="3.0"/>
<text x="418.9" y="726.1" font-size="17.6" text-anchor="start">Pd/C-600C</text>
<text x="124.4" y="472.9" font-size="21.5" xml:space="preserve">0.1 M KOH, H<tspan font-size="13" dy="8">2</tspan><tspan dy="-8">, 1 mV/s, 1600 rpm</tspan></text>
<text x="198.2" y="820.9" font-size="30">E<tspan font-size="19" dy="11.5">iR-free</tspan></text><text x="280" y="820.9" font-size="30.6" text-anchor="start">vs. RHE (V)</text>
<g transform="translate(33.8 685.5) rotate(-90)"><text x="0" y="0" font-size="30">i</text><text x="6.66" y="12" font-size="19">k</text><text x="16.16" y="0" font-size="30" xml:space="preserve"> (mA/cm</text><text x="128.32" y="-16.5" font-size="19">2</text><text x="128.32" y="12" font-size="19">Pd</text><text x="151.56" y="0" font-size="30">)</text></g>
<text x="12.5" y="458.6" font-size="37" text-anchor="start">c)</text>
<clipPath id="clipd"><rect x="673.9" y="438.8" width="421.4" height="313"/></clipPath>
<path d="M673.9 751.8v-6.5M673.9 438.8v6.5M779.25 751.8v-6.5M779.25 438.8v6.5M884.6 751.8v-6.5M884.6 438.8v6.5M989.95 751.8v-6.5M989.95 438.8v6.5M1095.3 751.8v-6.5M1095.3 438.8v6.5M726.58 751.8v-3.5M726.58 438.8v3.5M831.92 751.8v-3.5M831.92 438.8v3.5M937.27 751.8v-3.5M937.27 438.8v3.5M1042.62 751.8v-3.5M1042.62 438.8v3.5M673.9 720.5h6.5M1095.3 720.5h-6.5M673.9 657.9h6.5M1095.3 657.9h-6.5M673.9 595.3h6.5M1095.3 595.3h-6.5M673.9 532.7h6.5M1095.3 532.7h-6.5M673.9 470.1h6.5M1095.3 470.1h-6.5M673.9 751.8h3.5M1095.3 751.8h-3.5M673.9 689.2h3.5M1095.3 689.2h-3.5M673.9 626.6h3.5M1095.3 626.6h-3.5M673.9 564h3.5M1095.3 564h-3.5M673.9 501.4h3.5M1095.3 501.4h-3.5M673.9 438.8h3.5M1095.3 438.8h-3.5" stroke="#1a1a1a" stroke-width="2" fill="none"/>
<rect x="673.9" y="438.8" width="421.4" height="313" fill="none" stroke="#1a1a1a" stroke-width="2.4"/>
<text x="673.9" y="778.6" font-size="25" text-anchor="middle">-0.02</text>
<text x="779.25" y="778.6" font-size="25" text-anchor="middle">-0.01</text>
<text x="884.6" y="778.6" font-size="25" text-anchor="middle">0.00</text>
<text x="989.95" y="778.6" font-size="25" text-anchor="middle">0.01</text>
<text x="1095.3" y="778.6" font-size="25" text-anchor="middle">0.02</text>
<text x="666.5" y="477.3" font-size="25" text-anchor="end">4</text>
<text x="666.5" y="539.9" font-size="25" text-anchor="end">2</text>
<text x="666.5" y="602.5" font-size="25" text-anchor="end">0</text>
<text x="666.5" y="665.1" font-size="25" text-anchor="end">-2</text>
<text x="666.5" y="727.7" font-size="25" text-anchor="end">-4</text>
<path d="M701.4 645.02L705.19 643.73L708.98 642.85L712.76 640.66L716.55 639.26L720.34 637.93L724.12 635.82L727.91 634.88L731.7 633.61L735.9 632.88L740.1 630.78L744.3 630.13L748.5 628.8L752.7 628.97L756.9 627.8L761.1 625.77L765.29 626.16L769.47 625.02L773.66 623.4L777.84 622.23L782.03 620.38L786.21 619.04L790.4 618.75L794.6 616.88L798.8 615.98L803 614.94L807.2 613.49L811.4 613.07L815.6 611.92L819.8 611.45L824 609.94L828.2 609.15L832.4 607.94L836.6 607.22L840.8 605.9L845 604.63L849.2 604.8L853.14 603.77L857.08 602.49L861.01 601.26L864.95 599.6L868.89 598.44L872.83 597.51L876.76 596.14L880.7 596.23L884.88 594.75L889.05 594.58L893.23 592.96L897.4 592.98L901.58 591.92L905.75 589.68L909.93 589.12L914.1 589.36L918.02 587.48L921.94 587.13L925.86 585.03L929.78 583.34L933.7 583.06L937.62 582.13L941.54 580.14L945.46 578.68L949.38 577.9L953.3 577.74L957.21 576.43L961.12 574.43L965.03 573.65L968.94 572.44L972.85 571.4L976.76 571.6L980.67 569.62L984.58 569.25L988.49 568.1L992.4 566.71L996.32 566.59L1000.24 564.65L1004.16 564.49L1008.08 562.67L1012 562.17L1015.92 560.86L1019.84 559.97L1023.76 560.11L1027.68 558.87L1031.6 557.09L1035.8 557.03L1040 554.97L1044.2 554.27L1048.4 554.02L1052.6 552.7L1056.8 550.85L1061 551.28L1065.31 548.94L1069.62 547.91L1073.94 547.64L1078.25 545.83L1082.56 544.67L1086.88 543.22L1091.19 542.14L1095.5 541.83" stroke="#111111" stroke-width="2.7" fill="none" stroke-linejoin="round" clip-path="url(#clipd)"/>
<path d="M673 658.76L676.92 657.29L680.84 655.55L684.76 652.95L688.68 650.98L692.6 649.8L696.79 648.11L700.97 647.44L705.16 645.72L709.34 644.05L713.53 642.45L717.71 641.09L721.9 638.73L726.1 637.95L730.3 636.25L734.5 636.18L738.7 633.57L742.9 633.52L747.1 631.08L751.3 630.8L755.5 629.11L759.7 628.09L763.9 627.66L768.1 625.22L772.3 624.15L776.5 624.39L780.7 622.61L784.89 620.83L789.07 621.15L793.26 619.97L797.44 617.52L801.63 616.91L805.81 615.33L810 614.5L814.2 614.02L818.4 612.32L822.6 612.2L826.8 610.2L831 609.42L835.2 609.48L839.4 607.84L843.59 606.6L847.77 605.61L851.96 604.15L856.14 602.73L860.33 600.89L864.51 600.73L868.7 599.85L872.7 598.76L876.7 597.16L880.7 595.57L884.88 593.96L889.05 592.85L893.23 591.2L897.4 588.68L901.58 587.25L905.75 585.83L909.93 584.44L914.1 583.3L918.02 581.04L921.94 578.53L925.86 578.04L929.78 575.65L933.7 574.03L937.62 571.8L941.54 570.36L945.46 568.54L949.38 567.4L953.3 564.56L957.21 563.72L961.12 561.56L965.03 560.83L968.94 558.22L972.85 557.04L976.76 555.59L980.67 554.5L984.58 552L988.49 551.09L992.4 549.13L996.32 547.49L1000.24 546.04L1004.16 545.05L1008.08 542.53L1012 541.53L1015.92 538.51L1019.84 537.96L1023.76 535.3L1027.68 533.26L1031.6 532.4L1035.8 530.97L1040 527.84L1044.2 526.57L1048.4 525.69L1052.6 523.32L1056.8 521.47L1061 519.41L1064.25 516.85L1067.5 515.16L1070.75 513.12L1074 510.53L1077.25 507.12L1080.5 503.74L1085.5 502.62L1090.5 501.76L1095.5 500.23" stroke="#d8282c" stroke-width="2.7" fill="none" stroke-linejoin="round" clip-path="url(#clipd)"/>
<path d="M673 681.01L676.92 679.92L680.84 678.13L684.76 676.62L688.68 673.78L692.6 672.07L696.5 670.18L700.4 668.54L704.3 667.59L708.2 664.87L712.1 663.75L716.3 661.57L720.5 660.03L724.7 658.58L728.9 657.55L733.1 655.52L737.3 652.89L741.5 651.64L745.17 649.6L748.85 648.92L752.52 646.98L756.2 645.14L759.88 643.33L763.55 641.37L767.23 639.86L770.9 637.77L775.09 635.51L779.27 635.06L783.46 633.08L787.64 632.11L791.83 630.4L796.01 628.79L800.2 627.28L804.4 625.86L808.6 624.14L812.8 622.3L817 621.9L821.2 620.33L825.4 619.11L829.6 617.11L833.27 615.29L836.95 614L840.62 611.42L844.3 610.68L847.98 608.71L851.65 606.68L855.33 605.12L859 604.04L863.34 601.97L867.68 600.66L872.02 599.25L876.36 597.27L880.7 595.21L884.41 594.13L888.12 592.07L891.83 590.41L895.54 588.69L899.26 587.31L902.97 585.18L906.68 584.45L910.39 583.28L914.1 580.72L918.02 579.49L921.94 578.07L925.86 574.89L929.78 573.29L933.7 572.59L937.62 570.88L941.54 568.8L945.46 566.28L949.38 564.92L953.3 563.89L957.21 562.16L961.12 560.27L965.03 557.54L968.94 556.83L972.85 554.3L976.76 553.09L980.67 550.4L984.58 549.97L988.49 547.63L992.4 546.06L996.32 543.28L1000.24 541.97L1004.16 539.95L1008.08 538.01L1012 535.67L1015.92 534.3L1019.84 531.73L1023.76 529.69L1027.68 527.52L1031.6 526.39L1035.27 522.9L1038.95 520.51L1042.62 517.69L1046.3 516.03L1049.97 513.31L1053.65 510.72L1057.33 507.34L1061 505.4L1064.45 502.9L1067.9 500.15L1071.35 497.65L1074.8 496.9L1078.25 493.14L1081.7 491.08L1085.15 488.68L1088.6 486.86L1092.05 483.67L1095.5 481.95" stroke="#1c1cc0" stroke-width="2.7" fill="none" stroke-linejoin="round" clip-path="url(#clipd)"/>
<path d="M698.4 693.1L701.4 696L702.4 689.2L702.4 688.88L705.3 685.62L708.2 683.57L711.47 679.26L714.73 676.83L718 673.26L721.9 673.7L725.8 675.51L728.75 671.72L731.7 669.48L734.97 665.89L738.23 663L741.5 660.66L746.07 659.12L750.63 655.59L755.2 653.5L759.1 650.28L763 646.91L766.93 644.31L770.87 642.05L774.8 641.16L778.7 637.76L782.6 637.5L786.5 634.75L790.4 632.76L795.3 630.26L800.2 628.16L804.12 626.91L808.04 623.61L811.96 622.17L815.88 620.11L819.8 617.47L823.72 616.43L827.64 614.19L831.56 612.83L835.48 611.73L839.4 611.22L843.32 609.01L847.24 607.05L851.16 605.77L855.08 603.78L859 601.74L863.34 601.37L867.68 599.94L872.02 597.86L876.36 597.19L880.7 595.85L885.15 594.45L889.6 592.16L894.05 589.34L898.5 588.56L903.4 587.01L908.3 587.55L911.42 585.62L914.54 581.99L917.66 580.06L920.78 576.71L923.9 575.3L928.1 573.8L932.3 571.79L936.5 570.66L940.7 567.98L944.9 566.99L949.1 565.14L953.3 563.44L957.22 561.9L961.13 561.28L965.05 560.15L968.97 557.99L972.88 557.01L976.8 554.61L980.43 553.53L984.06 551.21L987.69 549.6L991.31 547.07L994.94 543.87L998.57 541.82L1002.2 540.1L1006.4 537.25L1010.6 536.36L1014.8 534.15L1019 532.37L1023.2 530.58L1027.4 530.17L1031.6 527.33L1035.27 525.11L1038.95 522.93L1042.62 521.36L1046.3 517.5L1049.97 515.72L1053.65 513.46L1057.33 511.63L1061 509.07L1064.45 506.61L1067.9 503L1071.35 500.7L1074.8 498.05L1078.25 496.44L1081.7 494.02L1085.15 490.02L1088.6 487.52L1092.05 485.07L1095.5 482.52" stroke="#1f6f22" stroke-width="2.7" fill="none" stroke-linejoin="round" clip-path="url(#clipd)"/>
<path d="M673 738.84L676.27 734.05L679.53 731.94L682.8 727.75L686.72 726.74L690.64 722.85L694.56 721.89L698.48 719.23L702.4 717.17L706.97 716.1L711.53 713.58L716.1 712.44L719 709.08L721.9 704.45L725.82 701.68L729.74 698.89L733.66 697.15L737.58 694.44L741.5 691.58L744.77 688.06L748.03 686.58L751.3 683.32L754.57 680.27L757.83 678.03L761.1 675.37L765 671.88L768.9 669.7L772.8 666.43L776.7 663.81L780.12 661.46L783.55 658.08L786.98 654.77L790.4 652.58L793.67 650.34L796.93 647.08L800.2 645.36L803.47 641.43L806.73 639.17L810 636.78L813.67 635.44L817.35 632.48L821.02 629.96L824.7 626.71L828.38 624.48L832.05 622.54L835.73 618.72L839.4 616.19L843.32 614.12L847.24 612.83L851.16 611.46L855.08 609.05L859 606.84L862.62 605.14L866.23 602.75L869.85 602.12L873.47 599.3L877.08 597.24L880.7 595.5L884.18 593.57L887.65 590.01L891.12 588.2L894.6 584.54L898.26 582.51L901.92 579.72L905.59 578.85L909.25 576.47L912.91 573.76L916.58 570.98L920.24 569.39L923.9 567L927.82 566.18L931.74 564.76L935.66 562.91L939.58 560.62L943.5 558.67L948.07 558.7L952.63 557.44L957.2 554.85L960.34 552.28L963.48 549.13L966.62 546.8L969.76 542.19L972.9 539.1L976.8 539.35L980.7 537.91L984.6 536.74L987.55 534.07L990.5 530.6L993.45 527.58L996.4 523.71L999.74 521.21L1003.09 518.86L1006.43 517.15L1009.77 515.42L1013.11 512.76L1016.46 510.48L1019.8 508.69L1023.73 506.86L1027.67 504.72L1031.6 502.3L1034.87 500.5L1038.13 497.85L1041.4 495.38L1044.67 492.76L1047.93 488.74L1051.2 487.17L1056.1 483.76L1061 480.92L1064.25 478.18L1067.5 474.63L1070.75 471.85L1074 470.08L1077.25 466.08L1080.5 464.06L1083.5 460.58L1086.5 456.86L1089.5 453.75L1092.5 451.09L1095.5 448.12" stroke="#ea8a34" stroke-width="2.7" fill="none" stroke-linejoin="round" clip-path="url(#clipd)"/>
<path d="M936 630.8H977.7" stroke="#111111" stroke-width="3.0"/>
<text x="983.3" y="637" font-size="17.6" text-anchor="start">Pd/C</text>
<path d="M936 653.2H977.7" stroke="#d8282c" stroke-width="3.0"/>
<text x="983.3" y="659.4" font-size="17.6" text-anchor="start">Pd/C-300C</text>
<path d="M936 675.3H977.7" stroke="#1c1cc0" stroke-width="3.0"/>
<text x="983.3" y="681.5" font-size="17.6" text-anchor="start">Pd/C-400C</text>
<path d="M936 697.6H977.7" stroke="#1f6f22" stroke-width="3.0"/>
<text x="983.3" y="703.8" font-size="17.6" text-anchor="start">Pd/C-500C</text>
<path d="M936 719.9H977.7" stroke="#ea8a34" stroke-width="3.0"/>
<text x="983.3" y="726.1" font-size="17.6" text-anchor="start">Pd/C-600C</text>
<text x="690.6" y="471.6" font-size="21.5" xml:space="preserve">0.1 M HClO<tspan font-size="13" dy="8">4</tspan><tspan dy="-8">, H</tspan><tspan font-size="13" dy="8">2</tspan><tspan dy="-8">, 1 mV/s, 1600 rpm</tspan></text>
<text x="762.1" y="820.9" font-size="30">E<tspan font-size="19" dy="11.5">iR-free</tspan></text><text x="844.6" y="820.9" font-size="30.6" text-anchor="start">vs. RHE (V)</text>
<g transform="translate(618 684.8) rotate(-90)"><text x="0" y="0" font-size="30">i</text><text x="6.66" y="12" font-size="19">k</text><text x="16.16" y="0" font-size="30" xml:space="preserve"> (mA/cm</text><text x="128.32" y="-16.5" font-size="19">2</text><text x="128.32" y="12" font-size="19">Pd</text><text x="151.56" y="0" font-size="30">)</text></g>
<text x="594.5" y="460.6" font-size="37" text-anchor="start">d)</text>
<clipPath id="clipe"><rect x="109.3" y="880.9" width="421.7" height="312.5"/></clipPath>
<path d="M140.54 1193.4v-6.5M140.54 880.9v6.5M218.63 1193.4v-6.5M218.63 880.9v6.5M296.72 1193.4v-6.5M296.72 880.9v6.5M374.81 1193.4v-6.5M374.81 880.9v6.5M452.91 1193.4v-6.5M452.91 880.9v6.5M531 1193.4v-6.5M531 880.9v6.5M179.58 1193.4v-3.5M179.58 880.9v3.5M257.68 1193.4v-3.5M257.68 880.9v3.5M335.77 1193.4v-3.5M335.77 880.9v3.5M413.86 1193.4v-3.5M413.86 880.9v3.5M491.95 1193.4v-3.5M491.95 880.9v3.5M109.3 1154.7h6.5M531 1154.7h-6.5M109.3 1080.68h6.5M531 1080.68h-6.5M109.3 1006.66h6.5M531 1006.66h-6.5M109.3 932.64h6.5M531 932.64h-6.5M109.3 1193.4h3.5M531 1193.4h-3.5M109.3 1184.15h3.5M531 1184.15h-3.5M109.3 1176.98h3.5M531 1176.98h-3.5M109.3 1171.12h3.5M531 1171.12h-3.5M109.3 1166.16h3.5M531 1166.16h-3.5M109.3 1161.87h3.5M531 1161.87h-3.5M109.3 1158.08h3.5M531 1158.08h-3.5M109.3 1132.41h3.5M531 1132.41h-3.5M109.3 1119.38h3.5M531 1119.38h-3.5M109.3 1110.13h3.5M531 1110.13h-3.5M109.3 1102.96h3.5M531 1102.96h-3.5M109.3 1097.1h3.5M531 1097.1h-3.5M109.3 1092.14h3.5M531 1092.14h-3.5M109.3 1087.85h3.5M531 1087.85h-3.5M109.3 1084.06h3.5M531 1084.06h-3.5M109.3 1058.39h3.5M531 1058.39h-3.5M109.3 1045.36h3.5M531 1045.36h-3.5M109.3 1036.11h3.5M531 1036.11h-3.5M109.3 1028.94h3.5M531 1028.94h-3.5M109.3 1023.08h3.5M531 1023.08h-3.5M109.3 1018.12h3.5M531 1018.12h-3.5M109.3 1013.83h3.5M531 1013.83h-3.5M109.3 1010.04h3.5M531 1010.04h-3.5M109.3 984.38h3.5M531 984.38h-3.5M109.3 971.34h3.5M531 971.34h-3.5M109.3 962.09h3.5M531 962.09h-3.5M109.3 954.92h3.5M531 954.92h-3.5M109.3 949.06h3.5M531 949.06h-3.5M109.3 944.1h3.5M531 944.1h-3.5M109.3 939.81h3.5M531 939.81h-3.5M109.3 936.02h3.5M531 936.02h-3.5M109.3 910.36h3.5M531 910.36h-3.5M109.3 897.32h3.5M531 897.32h-3.5M109.3 888.07h3.5M531 888.07h-3.5M109.3 880.9h3.5M531 880.9h-3.5" stroke="#1a1a1a" stroke-width="2" fill="none"/>
<rect x="109.3" y="880.9" width="421.7" height="312.5" fill="none" stroke="#1a1a1a" stroke-width="2.4"/>
<text x="140.54" y="1217.2" font-size="21" text-anchor="middle">-0.10</text>
<text x="218.63" y="1217.2" font-size="21" text-anchor="middle">-0.05</text>
<text x="296.72" y="1217.2" font-size="21" text-anchor="middle">0.00</text>
<text x="374.81" y="1217.2" font-size="21" text-anchor="middle">0.05</text>
<text x="452.91" y="1217.2" font-size="21" text-anchor="middle">0.10</text>
<text x="531" y="1217.2" font-size="21" text-anchor="middle">0.15</text>
<text x="102.5" y="937.84" font-size="21" text-anchor="end">1</text>
<text x="102.5" y="1011.86" font-size="21" text-anchor="end">0.1</text>
<text x="102.5" y="1085.88" font-size="21" text-anchor="end">0.01</text>
<text x="102.5" y="1159.9" font-size="21" text-anchor="end">1E-3</text>
<path d="M145.03 971.63L147.54 972.75L150.06 973.87L152.6 974.99L155.15 976.11L157.71 977.23L160.27 978.36L162.85 979.49L165.43 980.62L168.02 981.75L170.61 982.89L173.21 984.04L175.81 985.18L178.42 986.34L181.03 987.5L183.63 988.67L186.24 989.84L188.85 991.02L191.46 992.21L194.07 993.41L196.67 994.62L199.27 995.83L201.86 997.06L204.45 998.3L207.03 999.54L209.6 1000.8L212.17 1002.08L214.72 1003.36L217.27 1004.66L219.81 1005.97L222.33 1007.29L224.84 1008.63L227.34 1009.99L229.82 1011.36L232.29 1012.74L234.74 1014.15L237.18 1015.57L239.59 1017L241.98 1018.47L244.35 1019.96L246.67 1021.49L248.96 1023.07L251.19 1024.69L253.38 1026.37L255.51 1028.1L257.57 1029.91L259.57 1031.78L261.5 1033.73L263.35 1035.75L265.14 1037.84L266.85 1039.99L268.5 1042.21L270.08 1044.48L271.59 1046.81L273.04 1049.19L274.42 1051.61L275.74 1054.09L276.99 1056.61L278.19 1059.17L279.33 1061.77L280.42 1064.4L281.45 1067.07L282.43 1069.76L283.36 1072.49L284.24 1075.24L285.07 1078.01L285.86 1080.8L286.6 1083.61L287.3 1086.43L287.96 1089.27L288.57 1092.11L289.16 1094.96L289.7 1097.81L290.21 1100.67L290.69 1103.52L291.14 1106.36L291.56 1109.2L291.95 1112.03L292.32 1114.85L292.66 1117.65L292.98 1120.43L293.28 1123.2L293.56 1125.96L293.82 1128.72L294.07 1131.46L294.3 1134.21L294.52 1136.95L294.73 1139.69L294.93 1142.44L295.12 1145.19L295.3 1147.95L295.49 1150.73L295.67 1153.51L295.85 1156.31L296.03 1159.13L296.21 1161.97L296.39 1164.84L296.59 1167.73L296.79 1170.64L296.8 1173.6L297.2 1170.82L297.61 1167.74L297.98 1164.65L298.3 1161.55L298.59 1158.43L298.84 1155.29L299.07 1152.15L299.27 1149L299.45 1145.84L299.62 1142.67L299.77 1139.5L299.92 1136.32L300.07 1133.14L300.21 1129.96L300.37 1126.78L300.53 1123.61L300.71 1120.43L300.91 1117.26L301.14 1114.1L301.39 1110.94L301.67 1107.79L302 1104.65L302.36 1101.53L302.77 1098.41L303.24 1095.31L303.75 1092.23L304.33 1089.16L304.97 1086.11L305.68 1083.09L306.45 1080.08L307.28 1077.1L308.18 1074.14L309.15 1071.2L310.18 1068.29L311.27 1065.42L312.42 1062.57L313.64 1059.75L314.91 1056.97L316.25 1054.21L317.66 1051.5L319.12 1048.82L320.64 1046.18L322.23 1043.58L323.87 1041.02L325.58 1038.5L327.34 1036.03L329.17 1033.6L331.05 1031.22L332.99 1028.89L334.99 1026.6L337.05 1024.37L339.17 1022.19L341.34 1020.06L343.57 1017.99L345.85 1015.97L348.19 1014L350.57 1012.08L353.01 1010.2L355.49 1008.38L358.01 1006.6L360.57 1004.86L363.18 1003.17L365.82 1001.51L368.5 999.9L371.21 998.33L373.96 996.79L376.73 995.29L379.53 993.82L382.36 992.39L385.21 990.99L388.09 989.62L390.98 988.28L393.89 986.97L396.82 985.68L399.76 984.42L402.71 983.18L405.67 981.97L408.64 980.78L411.61 979.61L414.59 978.45L417.57 977.32L420.55 976.2L423.53 975.09L426.5 974L429.47 972.92L432.43 971.85L435.38 970.79L438.31 969.74L441.24 968.69L444.14 967.65L447.03 966.61L449.89 965.58L452.74 964.55L455.56 963.51L458.35 962.48L461.11 961.44L463.85 960.4L466.55 959.35L469.21 958.3" stroke="#111111" stroke-width="2.7" fill="none" stroke-linejoin="round" clip-path="url(#clipe)"/>
<path d="M141.84 963.82L144.39 964.85L146.96 965.89L149.54 966.93L152.13 967.98L154.73 969.04L157.34 970.1L159.95 971.18L162.57 972.26L165.2 973.35L167.83 974.45L170.47 975.55L173.11 976.67L175.75 977.8L178.4 978.93L181.04 980.08L183.68 981.24L186.33 982.4L188.97 983.58L191.61 984.77L194.24 985.97L196.87 987.18L199.49 988.41L202.11 989.65L204.72 990.89L207.32 992.16L209.91 993.43L212.5 994.72L215.07 996.03L217.63 997.34L220.17 998.67L222.71 1000.02L225.23 1001.38L227.73 1002.76L230.22 1004.15L232.69 1005.56L235.14 1006.98L237.58 1008.42L239.99 1009.88L242.38 1011.37L244.73 1012.88L247.05 1014.44L249.33 1016.04L251.56 1017.69L253.74 1019.39L255.87 1021.16L257.93 1023L259.93 1024.91L261.87 1026.89L263.73 1028.95L265.53 1031.07L267.26 1033.26L268.92 1035.5L270.52 1037.8L272.05 1040.16L273.51 1042.56L274.91 1045.01L276.24 1047.5L277.51 1050.04L278.72 1052.61L279.87 1055.22L280.97 1057.87L282.01 1060.55L282.99 1063.25L283.93 1065.98L284.81 1068.74L285.64 1071.52L286.43 1074.32L287.18 1077.14L287.88 1079.97L288.53 1082.81L289.15 1085.66L289.73 1088.52L290.27 1091.39L290.78 1094.26L291.25 1097.13L291.7 1099.99L292.11 1102.85L292.49 1105.71L292.85 1108.55L293.18 1111.39L293.49 1114.21L293.77 1117.01L294.04 1119.81L294.29 1122.6L294.52 1125.38L294.74 1128.16L294.94 1130.94L295.13 1133.72L295.31 1136.5L295.49 1139.28L295.66 1142.08L295.82 1144.88L295.98 1147.7L296.13 1150.53L296.29 1153.38L296.45 1156.24L296.61 1159.13L296.78 1162.04L296.8 1165L297.55 1162.64L297.58 1160.13L297.62 1157.61L297.66 1155.07L297.71 1152.53L297.76 1149.98L297.82 1147.42L297.9 1144.85L297.97 1142.28L298.06 1139.7L298.16 1137.11L298.28 1134.52L298.4 1131.93L298.54 1129.34L298.69 1126.74L298.86 1124.15L299.05 1121.55L299.25 1118.96L299.47 1116.36L299.71 1113.77L299.97 1111.18L300.25 1108.6L300.56 1106.02L300.88 1103.45L301.23 1100.88L301.61 1098.32L302.01 1095.77L302.44 1093.22L302.89 1090.69L303.37 1088.17L303.88 1085.66L304.43 1083.16L305 1080.67L305.6 1078.2L306.24 1075.74L306.91 1073.3L307.62 1070.87L308.36 1068.46L309.14 1066.07L309.96 1063.69L310.81 1061.34L311.7 1059L312.64 1056.69L313.61 1054.4L314.63 1052.13L315.69 1049.89L316.79 1047.66L317.94 1045.47L319.13 1043.3L320.37 1041.15L321.66 1039.04L323 1036.95L324.38 1034.89L325.82 1032.86L327.3 1030.86L328.83 1028.89L330.41 1026.95L332.04 1025.04L333.71 1023.17L335.42 1021.32L337.17 1019.51L338.97 1017.73L340.8 1015.97L342.68 1014.26L344.59 1012.57L346.53 1010.92L348.51 1009.3L350.53 1007.71L352.58 1006.16L354.66 1004.64L356.77 1003.15L358.9 1001.7L361.07 1000.29L363.26 998.9L365.48 997.56L367.72 996.24L369.99 994.97L372.27 993.72L374.58 992.52L376.91 991.35L379.25 990.22L381.62 989.12L384 988.06L386.39 987.04L388.8 986.05L391.21 985.11L393.65 984.2L396.09 983.32L398.54 982.49L400.99 981.69L403.46 980.94L405.92 980.22L408.4 979.54L410.87 978.9L413.35 978.31L415.83 977.75L418.31 977.23L420.78 976.75L423.25 976.31" stroke="#d8282c" stroke-width="2.7" fill="none" stroke-linejoin="round" clip-path="url(#clipe)"/>
<path d="M141.88 948.38L144.4 949.71L146.95 951.01L149.52 952.3L152.12 953.58L154.74 954.83L157.37 956.08L160.03 957.31L162.7 958.54L165.39 959.75L168.09 960.96L170.8 962.16L173.52 963.36L176.26 964.55L179 965.74L181.75 966.93L184.5 968.12L187.25 969.31L190.01 970.51L192.77 971.7L195.53 972.91L198.28 974.12L201.03 975.34L203.78 976.57L206.52 977.81L209.25 979.06L211.97 980.32L214.68 981.6L217.37 982.9L220.06 984.21L222.72 985.55L225.37 986.9L228.01 988.27L230.62 989.67L233.21 991.09L235.78 992.54L238.32 994.01L240.83 995.51L243.31 997.05L245.76 998.63L248.16 1000.26L250.52 1001.94L252.83 1003.67L255.08 1005.46L257.28 1007.32L259.41 1009.25L261.47 1011.25L263.46 1013.32L265.39 1015.47L267.24 1017.67L269.03 1019.94L270.74 1022.27L272.38 1024.66L273.94 1027.1L275.43 1029.59L276.84 1032.13L278.18 1034.72L279.45 1037.35L280.65 1040.03L281.79 1042.74L282.86 1045.49L283.87 1048.27L284.82 1051.09L285.72 1053.93L286.55 1056.8L287.34 1059.69L288.07 1062.61L288.75 1065.55L289.39 1068.5L289.98 1071.47L290.52 1074.44L291.03 1077.43L291.5 1080.43L291.93 1083.42L292.32 1086.42L292.68 1089.42L293.02 1092.42L293.32 1095.41L293.6 1098.4L293.85 1101.37L294.08 1104.33L294.29 1107.27L294.48 1110.21L294.66 1113.13L294.82 1116.04L294.98 1118.94L295.12 1121.84L295.25 1124.73L295.38 1127.63L295.51 1130.52L295.63 1133.42L295.75 1136.32L295.88 1139.23L296.02 1142.15L296.16 1145.08L296.3 1148.02L296.47 1150.97L296.64 1153.95L296.83 1156.94L296.8 1160L297.41 1156.84L297.43 1153.35L297.45 1149.84L297.48 1146.32L297.52 1142.79L297.57 1139.25L297.64 1135.69L297.72 1132.14L297.81 1128.58L297.93 1125.01L298.07 1121.44L298.24 1117.88L298.43 1114.31L298.66 1110.75L298.91 1107.19L299.2 1103.63L299.53 1100.09L299.9 1096.55L300.3 1093.02L300.76 1089.51L301.26 1086.01L301.8 1082.52L302.4 1079.06L303.06 1075.61L303.77 1072.18L304.53 1068.77L305.36 1065.38L306.25 1062.02L307.21 1058.69L308.23 1055.38L309.33 1052.1L310.5 1048.86L311.74 1045.65L313.06 1042.47L314.46 1039.32L315.94 1036.22L317.5 1033.15L319.14 1030.12L320.86 1027.14L322.65 1024.2L324.52 1021.3L326.46 1018.45L328.46 1015.65L330.54 1012.9L332.69 1010.2L334.9 1007.55L337.18 1004.96L339.51 1002.42L341.92 999.94L344.38 997.52L346.9 995.16L349.47 992.87L352.11 990.63L354.79 988.47L357.53 986.36L360.32 984.32L363.16 982.34L366.04 980.41L368.96 978.55L371.93 976.73L374.94 974.97L377.99 973.27L381.08 971.61L384.2 970L387.35 968.44L390.54 966.92L393.75 965.45L396.99 964.02L400.25 962.63L403.54 961.28L406.85 959.96L410.18 958.68L413.53 957.43L416.89 956.22L420.27 955.03L423.66 953.87L427.05 952.74L430.46 951.64L433.87 950.55L437.29 949.49L440.7 948.45L444.12 947.43L447.54 946.43L450.95 945.44L454.36 944.46L457.76 943.49L461.15 942.54L464.53 941.59L467.9 940.65L471.25 939.72L474.58 938.78L477.9 937.85L481.19 936.92L484.46 935.99L487.71 935.06L490.93 934.12L494.12 933.17L497.28 932.21L500.41 931.25" stroke="#1c1cc0" stroke-width="2.7" fill="none" stroke-linejoin="round" clip-path="url(#clipe)"/>
<path d="M109.29 931.4L112.32 932.68L115.37 933.95L118.42 935.21L121.5 936.46L124.58 937.71L127.68 938.96L130.79 940.2L133.91 941.44L137.04 942.67L140.18 943.91L143.33 945.14L146.48 946.38L149.64 947.62L152.81 948.86L155.99 950.1L159.16 951.35L162.35 952.61L165.53 953.87L168.72 955.14L171.9 956.42L175.09 957.71L178.28 959.01L181.47 960.32L184.65 961.65L187.83 962.98L191.01 964.33L194.18 965.7L197.35 967.09L200.51 968.49L203.66 969.91L206.81 971.35L209.95 972.81L213.07 974.29L216.17 975.8L219.26 977.34L222.32 978.92L225.35 980.52L228.35 982.17L231.32 983.86L234.25 985.58L237.14 987.36L239.99 989.18L242.79 991.05L245.53 992.98L248.23 994.96L250.86 997L253.44 999.1L255.95 1001.27L258.39 1003.5L260.76 1005.8L263.05 1008.17L265.27 1010.61L267.41 1013.11L269.46 1015.69L271.42 1018.33L273.3 1021.03L275.08 1023.8L276.76 1026.63L278.35 1029.51L279.85 1032.46L281.26 1035.46L282.59 1038.51L283.84 1041.6L285.01 1044.74L286.1 1047.93L287.11 1051.15L288.06 1054.41L288.94 1057.7L289.75 1061.03L290.5 1064.38L291.19 1067.76L291.82 1071.16L292.4 1074.58L292.92 1078.01L293.4 1081.46L293.82 1084.93L294.21 1088.4L294.55 1091.87L294.85 1095.35L295.12 1098.83L295.35 1102.3L295.56 1105.77L295.73 1109.23L295.88 1112.69L296.01 1116.13L296.11 1119.57L296.2 1122.99L296.28 1126.4L296.34 1129.8L296.39 1133.19L296.44 1136.56L296.48 1139.92L296.52 1143.26L296.56 1146.59L296.61 1149.9L296.67 1153.19L296.73 1156.46L296.8 1159.72L297.1 1163.2L297.53 1159.4L297.62 1155.53L297.68 1151.65L297.74 1147.74L297.78 1143.81L297.81 1139.87L297.84 1135.92L297.88 1131.95L297.92 1127.98L297.97 1124L298.04 1120.01L298.13 1116.02L298.24 1112.03L298.38 1108.04L298.56 1104.06L298.77 1100.08L299.03 1096.11L299.33 1092.15L299.68 1088.2L300.09 1084.26L300.56 1080.35L301.09 1076.45L301.69 1072.57L302.37 1068.71L303.12 1064.88L303.95 1061.08L304.87 1057.31L305.88 1053.57L306.99 1049.86L308.19 1046.19L309.5 1042.56L310.92 1038.96L312.45 1035.41L314.09 1031.9L315.84 1028.44L317.69 1025.03L319.64 1021.67L321.69 1018.36L323.84 1015.11L326.08 1011.92L328.41 1008.78L330.82 1005.71L333.33 1002.7L335.91 999.75L338.57 996.88L341.31 994.07L344.12 991.34L347.01 988.68L349.96 986.1L352.97 983.59L356.05 981.17L359.19 978.83L362.38 976.57L365.62 974.41L368.92 972.33L372.27 970.34L375.66 968.45L379.09 966.65L382.57 964.94L386.08 963.31L389.63 961.76L393.22 960.29L396.84 958.89L400.49 957.55L404.18 956.28L407.89 955.07L411.63 953.91L415.39 952.8L419.18 951.74L422.98 950.72L426.81 949.73L430.65 948.78L434.51 947.86L438.39 946.96L442.27 946.09L446.17 945.23L450.07 944.38L453.98 943.54L457.9 942.71L461.82 941.87L465.74 941.03L469.66 940.19L473.57 939.35L477.49 938.5L481.39 937.67L485.29 936.84L489.18 936.02L493.05 935.22L496.92 934.44L500.77 933.68L504.6 932.94L508.41 932.24L512.2 931.56L515.97 930.92L519.72 930.31L523.43 929.75L527.13 929.23L530.79 928.75L534.42 928.33" stroke="#1f6f22" stroke-width="2.7" fill="none" stroke-linejoin="round" clip-path="url(#clipe)"/>
<path d="M109.29 931.4L112.32 932.68L115.37 933.95L118.42 935.21L121.5 936.46L124.58 937.71L127.68 938.96L130.79 940.2L133.91 941.44L137.04 942.67L140.18 943.91L143.33 945.14L146.48 946.38L149.64 947.62L152.81 948.86L155.99 950.1L159.16 951.35L162.35 952.61L165.53 953.87L168.72 955.14L171.9 956.42L175.09 957.71L178.28 959.01L181.47 960.32L184.65 961.65L187.83 962.98L191.01 964.33L194.18 965.7L197.35 967.09L200.51 968.49L203.66 969.91L206.81 971.35L209.95 972.81L213.07 974.29L216.17 975.8L219.26 977.34L222.32 978.92L225.35 980.52L228.35 982.17L231.32 983.86L234.25 985.58L237.14 987.36L239.99 989.18L242.79 991.05L245.53 992.98L248.23 994.96L250.86 997L253.44 999.1L255.95 1001.27L258.39 1003.5L260.76 1005.8L263.05 1008.17L265.27 1010.61L267.41 1013.11L269.46 1015.69L271.42 1018.33L273.3 1021.03L275.08 1023.8L276.76 1026.63L278.35 1029.51L279.85 1032.46L281.26 1035.46L282.59 1038.51L283.84 1041.6L285.01 1044.74L286.1 1047.93L287.11 1051.15L288.06 1054.41L288.94 1057.7L289.75 1061.03L290.5 1064.38L291.19 1067.76L291.82 1071.16L292.4 1074.58L292.92 1078.01L293.4 1081.46L293.82 1084.93L294.21 1088.4L294.55 1091.87L294.85 1095.35L295.12 1098.83L295.35 1102.3L295.56 1105.77L295.73 1109.23L295.88 1112.69L296.01 1116.13L296.11 1119.57L296.2 1122.99L296.28 1126.4L296.34 1129.8L296.39 1133.19L296.44 1136.56L296.48 1139.92L296.52 1143.26L296.56 1146.59L296.61 1149.9L296.67 1153.19L296.73 1156.46L296.8 1159.72L297.1 1163.2L297.54 1159.41L297.63 1155.57L297.7 1151.71L297.75 1147.82L297.79 1143.92L297.82 1140L297.85 1136.06L297.87 1132.12L297.91 1128.16L297.95 1124.2L298.01 1120.23L298.09 1116.26L298.19 1112.29L298.32 1108.32L298.48 1104.35L298.69 1100.39L298.93 1096.44L299.23 1092.5L299.57 1088.57L299.98 1084.66L300.44 1080.77L300.97 1076.89L301.58 1073.04L302.25 1069.21L303.01 1065.4L303.86 1061.63L304.79 1057.88L305.82 1054.17L306.95 1050.49L308.18 1046.85L309.52 1043.25L310.97 1039.69L312.54 1036.18L314.22 1032.71L316.01 1029.29L317.91 1025.92L319.92 1022.61L322.02 1019.34L324.22 1016.14L326.52 1013L328.91 1009.92L331.38 1006.9L333.95 1003.95L336.59 1001.06L339.31 998.25L342.11 995.51L344.98 992.85L347.92 990.26L350.92 987.76L353.99 985.33L357.11 982.99L360.3 980.74L363.53 978.57L366.82 976.5L370.15 974.52L373.53 972.63L376.94 970.84L380.4 969.15L383.89 967.54L387.41 966.02L390.97 964.57L394.57 963.2L398.19 961.89L401.84 960.64L405.51 959.45L409.21 958.31L412.94 957.22L416.68 956.17L420.45 955.15L424.23 954.16L428.04 953.2L431.85 952.25L435.68 951.32L439.52 950.4L443.37 949.48L447.23 948.55L451.09 947.62L454.96 946.68L458.83 945.72L462.71 944.74L466.58 943.73L470.45 942.69L474.32 941.64L478.18 940.58L482.04 939.52L485.88 938.47L489.72 937.43L493.54 936.42L497.35 935.43L501.15 934.48L504.93 933.58L508.69 932.72L512.42 931.93L516.14 931.2L519.83 930.54L523.5 929.97L527.14 929.49L530.75 929.1L534.33 928.82" stroke="#ea8a34" stroke-width="2.7" fill="none" stroke-linejoin="round" clip-path="url(#clipe)"/>
<path d="M371.2 1071.1H412.9" stroke="#111111" stroke-width="3.0"/>
<text x="418.5" y="1077.3" font-size="17.6" text-anchor="start">Pd/C</text>
<path d="M371.2 1093.6H412.9" stroke="#d8282c" stroke-width="3.0"/>
<text x="418.5" y="1099.8" font-size="17.6" text-anchor="start">Pd/C-300C</text>
<path d="M371.2 1115.7H412.9" stroke="#1c1cc0" stroke-width="3.0"/>
<text x="418.5" y="1121.9" font-size="17.6" text-anchor="start">Pd/C-400C</text>
<path d="M371.2 1137.8H412.9" stroke="#1f6f22" stroke-width="3.0"/>
<text x="418.5" y="1144" font-size="17.6" text-anchor="start">Pd/C-500C</text>
<path d="M371.2 1160.2H412.9" stroke="#ea8a34" stroke-width="3.0"/>
<text x="418.5" y="1166.4" font-size="17.6" text-anchor="start">Pd/C-600C</text>
<text x="123.4" y="911.6" font-size="21.5" xml:space="preserve">0.1 M KOH, H<tspan font-size="13" dy="8">2</tspan><tspan dy="-8">, 1 mV/s, 1600 rpm</tspan></text>
<text x="197.1" y="1251.6" font-size="30">E<tspan font-size="19" dy="11.5">iR-free</tspan></text><text x="281.2" y="1251.6" font-size="30.6" text-anchor="start">vs. RHE (V)</text>
<g transform="translate(32.8 1134) rotate(-90)"><text x="0" y="0" font-size="30">|i</text><text x="14.46" y="12" font-size="19">k</text><text x="23.96" y="0" font-size="30" xml:space="preserve">| (mA/cm</text><text x="143.92" y="-16.5" font-size="19">2</text><text x="143.92" y="12" font-size="19">Pd</text><text x="167.16" y="0" font-size="30">)</text></g>
<text x="11.5" y="903" font-size="37" text-anchor="start">e)</text>
<clipPath id="clipf"><rect x="673.8" y="880.5" width="421.4" height="313"/></clipPath>
<path d="M712.11 1193.5v-6.5M712.11 880.5v6.5M788.73 1193.5v-6.5M788.73 880.5v6.5M865.35 1193.5v-6.5M865.35 880.5v6.5M941.96 1193.5v-6.5M941.96 880.5v6.5M1018.58 1193.5v-6.5M1018.58 880.5v6.5M1095.2 1193.5v-6.5M1095.2 880.5v6.5M750.42 1193.5v-3.5M750.42 880.5v3.5M827.04 1193.5v-3.5M827.04 880.5v3.5M903.65 1193.5v-3.5M903.65 880.5v3.5M980.27 1193.5v-3.5M980.27 880.5v3.5M1056.89 1193.5v-3.5M1056.89 880.5v3.5M673.8 1193.5h6.5M1095.2 1193.5h-6.5M673.8 1091.85h6.5M1095.2 1091.85h-6.5M673.8 990.2h6.5M1095.2 990.2h-6.5M673.8 888.55h6.5M1095.2 888.55h-6.5M673.8 1162.9h3.5M1095.2 1162.9h-3.5M673.8 1145h3.5M1095.2 1145h-3.5M673.8 1132.3h3.5M1095.2 1132.3h-3.5M673.8 1122.45h3.5M1095.2 1122.45h-3.5M673.8 1114.4h3.5M1095.2 1114.4h-3.5M673.8 1107.6h3.5M1095.2 1107.6h-3.5M673.8 1101.7h3.5M1095.2 1101.7h-3.5M673.8 1096.5h3.5M1095.2 1096.5h-3.5M673.8 1061.25h3.5M1095.2 1061.25h-3.5M673.8 1043.35h3.5M1095.2 1043.35h-3.5M673.8 1030.65h3.5M1095.2 1030.65h-3.5M673.8 1020.8h3.5M1095.2 1020.8h-3.5M673.8 1012.75h3.5M1095.2 1012.75h-3.5M673.8 1005.95h3.5M1095.2 1005.95h-3.5M673.8 1000.05h3.5M1095.2 1000.05h-3.5M673.8 994.85h3.5M1095.2 994.85h-3.5M673.8 959.6h3.5M1095.2 959.6h-3.5M673.8 941.7h3.5M1095.2 941.7h-3.5M673.8 929h3.5M1095.2 929h-3.5M673.8 919.15h3.5M1095.2 919.15h-3.5M673.8 911.1h3.5M1095.2 911.1h-3.5M673.8 904.29h3.5M1095.2 904.29h-3.5M673.8 898.4h3.5M1095.2 898.4h-3.5M673.8 893.2h3.5M1095.2 893.2h-3.5" stroke="#1a1a1a" stroke-width="2" fill="none"/>
<rect x="673.8" y="880.5" width="421.4" height="313" fill="none" stroke="#1a1a1a" stroke-width="2.4"/>
<text x="712.11" y="1220.3" font-size="24" text-anchor="middle">-0.02</text>
<text x="788.73" y="1220.3" font-size="24" text-anchor="middle">-0.01</text>
<text x="865.35" y="1220.3" font-size="24" text-anchor="middle">0.00</text>
<text x="941.96" y="1220.3" font-size="24" text-anchor="middle">0.01</text>
<text x="1018.58" y="1220.3" font-size="24" text-anchor="middle">0.02</text>
<text x="1095.2" y="1220.3" font-size="24" text-anchor="middle">0.03</text>
<text x="666.5" y="896.15" font-size="24" text-anchor="end">10</text>
<text x="666.5" y="997.8" font-size="24" text-anchor="end">1</text>
<text x="666.5" y="1099.45" font-size="24" text-anchor="end">0.1</text>
<text x="666.5" y="1201.1" font-size="24" text-anchor="end">0.01</text>
<path d="M732.7 968.43L736.84 970.77L740.98 972.29L745.12 973.67L749.26 974.9L753.4 977.31L757.22 978.86L761.03 979.98L764.85 981.51L768.67 982.66L772.48 983.87L776.3 985.92L779.98 988.74L783.66 990.54L787.34 994.07L791.02 995.81L794.7 998.33L798.73 1000.36L802.75 1004L806.77 1005.93L810.8 1008.43L813.85 1010.75L816.9 1012.61L819.95 1015.71L823 1018.63L826.05 1020.78L829.1 1024.63L831.86 1027.04L834.62 1029.96L837.38 1034.1L840.14 1036.35L842.9 1040.7L844.74 1043.69L846.58 1047.49L848.42 1050.86L850.26 1054.72L852.1 1057.96L852.87 1061.97L853.63 1067.35L854.4 1070.68L855.17 1075.66L855.93 1079.08L856.7 1084.36L857.01 1088.42L857.32 1092.4L857.63 1096.59L857.94 1100.5L858.25 1104.89L858.55 1108.21L858.86 1112.88L859.17 1117.54L859.48 1120.84L859.79 1126.02L860.1 1130.14L860.43 1133.68L860.75 1137.83L861.08 1142.16L861.4 1146.27L861.73 1151.33L862.05 1154.69L862.38 1158.4L862.7 1162.7L863.02 1167.78L863.35 1172.37L863.67 1175.89L864 1180.1L864.59 1175.51L865.18 1171.22L865.77 1168.05L866.37 1163.38L866.96 1159.32L867.55 1154.92L868.14 1150.48L868.73 1146.76L869.33 1142.33L869.92 1138.41L870.51 1134.03L871.1 1130.08L871.79 1125.39L872.48 1120.86L873.17 1116.72L873.86 1113.39L874.55 1108.48L875.24 1105.04L875.93 1100.86L876.62 1095.94L877.31 1092.83L878 1087.65L879.3 1084.54L880.6 1080.23L881.9 1075.09L883.2 1071.53L884.5 1067.27L885.8 1062.15L887.1 1058.64L889.07 1054.27L891.04 1051.78L893.01 1047.86L894.99 1044.67L896.96 1039.77L898.93 1036.54L900.9 1033.37L903.66 1030.13L906.42 1026.31L909.18 1024.08L911.94 1020.81L914.7 1016.82L918.38 1013.84L922.06 1011.81L925.74 1008.69L929.42 1006.29L933.1 1003.29L937.1 1000.85L941.1 998.03L945.1 995.89L949.1 994.04L953.24 992.6L957.38 990.36L961.52 988.98L965.66 986.88L969.8 985.53L973.63 983.48L977.47 981.28L981.3 979.29L985.13 977.46L988.97 975.69L992.8 975.11L996.62 973.79L1000.43 972.29L1004.25 970.05L1008.07 969.49L1011.88 967.41L1015.7 967.14L1019.92 965.87L1024.13 965.05L1028.35 963.9L1032.57 962.69L1036.78 962.34L1041 961.55" stroke="#111111" stroke-width="2.7" fill="none" stroke-linejoin="round" clip-path="url(#clipf)"/>
<path d="M709.7 959.24L713.84 960.16L717.98 962.05L722.12 965.48L726.26 966.4L730.4 968.37L734.23 970.65L738.07 971.75L741.9 974.05L745.73 974.66L749.57 977.21L753.4 977.85L757.22 979.57L761.03 981.37L764.85 982.36L768.67 984.03L772.48 985.06L776.3 985.47L780.13 988.35L783.97 989.66L787.8 990.98L791.63 992.53L795.47 995.17L799.3 996.52L803.13 999.31L806.97 1001.38L810.8 1003.95L814.63 1005.69L818.47 1008.18L822.3 1010.36L825.5 1013.08L828.7 1017.28L831.9 1019.6L835.1 1023.47L838.3 1026.94L840.14 1030.19L841.98 1033.16L843.82 1037.8L845.66 1041.25L847.5 1044.26L848.49 1048.33L849.47 1053.26L850.46 1056.82L851.44 1062.32L852.43 1065.99L853.41 1070.27L854.4 1074.37L854.98 1078.75L855.55 1083.13L856.12 1086.31L856.7 1090.42L857.27 1094.74L857.85 1098.37L858.42 1102.81L859 1106.76L859.42 1110.91L859.85 1115.54L860.27 1119.64L860.7 1123.32L861.12 1128.9L861.55 1132.3L861.98 1136.7L862.4 1140.96L863.2 1147.15L864 1152L864.65 1145.89L865.3 1140.79L865.78 1136.66L866.25 1133.33L866.73 1129.19L867.21 1125.44L867.68 1120.26L868.16 1116.67L868.64 1112.07L869.11 1108.28L869.59 1104.63L870.06 1099.91L870.54 1096.1L871.02 1092.67L871.49 1088.47L871.97 1083.97L872.45 1080.43L872.92 1076.69L873.4 1071.51L874.55 1068.43L875.7 1064.08L876.85 1059.38L878 1054.92L879.15 1051.84L880.3 1046.77L882.01 1042.69L883.72 1038.96L885.44 1036.27L887.15 1032.2L888.86 1028.74L890.58 1024.9L892.29 1020.89L894 1017.76L898.02 1014.05L902.05 1011.42L906.08 1008.94L910.1 1005.77L912.86 1002.91L915.62 999.31L918.38 996.29L921.14 992.16L923.9 989.22L927.92 986.43L931.95 983.26L935.98 980.6L940 977.54L943.66 975.49L947.32 973.69L950.98 971.01L954.64 968.72L958.3 966.19L962.13 964.36L965.97 963.38L969.8 961.06L973.63 959.09L977.47 956.56L981.3 955.42L985.13 952.71L988.97 951.1L992.8 950.04L996.63 947.63L1000.47 945.6L1004.3 943.86L1008.4 942.77L1012.5 941.36L1016.6 939.28L1020.7 937.69L1024.8 936.77L1028.9 935.39L1033 934" stroke="#d8282c" stroke-width="2.7" fill="none" stroke-linejoin="round" clip-path="url(#clipf)"/>
<path d="M704 941.89L708.97 943.86L713.93 945.72L718.9 946.52L722.73 948.56L726.57 949.66L730.4 951.14L734.23 951.92L738.07 953.34L741.9 955.02L745.58 956.55L749.26 958.72L752.94 959.95L756.62 961.88L760.3 964.59L764.3 966.76L768.3 969.47L772.3 972.35L776.3 974.4L779.98 976.06L783.66 979.16L787.34 980.96L791.02 983.14L794.7 985.17L798.73 988.51L802.75 990.51L806.77 993.91L810.8 996.22L813.85 999.18L816.9 1001.99L819.95 1004.19L823 1006.55L826.05 1009.78L829.1 1012.81L831.86 1015.85L834.62 1018.87L837.38 1022.36L840.14 1024.93L842.9 1028.15L845.2 1032.19L847.5 1036.71L849.8 1039.67L850.72 1043.68L851.64 1047.78L852.56 1051.81L853.48 1056.27L854.4 1060.8L855.32 1065.75L856.24 1069.66L857.16 1074.32L858.08 1078.8L859 1083.43L859.35 1088.33L859.71 1092.25L860.06 1096.08L860.42 1100.1L860.77 1105.29L861.12 1109.42L861.48 1113.83L861.83 1117.24L862.18 1121.91L862.54 1126.67L862.89 1130.45L863.25 1135.19L863.6 1138.33L864.57 1144.07L865.53 1147.38L866.5 1152.6L866.9 1148.74L867.3 1143.83L867.7 1140.14L868.1 1136.3L868.5 1132.34L868.9 1127.72L869.3 1123.65L869.7 1118.85L870.1 1115.29L870.5 1111.07L870.9 1107.61L871.3 1103.05L871.7 1099.2L872.1 1094.62L872.5 1090.12L872.9 1086.93L873.3 1082.75L873.7 1078L874.1 1073.47L874.5 1069.92L875.85 1066.08L877.2 1062.65L878.55 1058.59L879.9 1054.64L881.25 1050.92L882.6 1046.83L884.32 1042.54L886.03 1038.72L887.75 1036.12L889.47 1032.14L891.18 1027.55L892.9 1024.54L895.42 1020.35L897.94 1016.08L900.46 1013.46L902.98 1009.4L905.5 1006.21L908.26 1002.65L911.02 998.63L913.78 996.17L916.54 993.2L919.3 990.16L922.75 986.3L926.2 983.51L929.65 980.68L933.1 976.87L936.55 974.75L940 971.59L943.66 968.73L947.32 967.65L950.98 965.5L954.64 963.4L958.3 962.15L961.59 960.36L964.87 957.47L968.16 954.56L971.44 952.79L974.73 950.89L978.01 948.84L981.3 946.2L985.13 943.72L988.97 943.49L992.8 941.44L996.63 939.18L1000.47 937.71L1004.3 936.12L1008.12 935.41L1011.93 933.18L1015.75 932.58L1019.57 930.09L1023.38 929.17L1027.2 927.52L1031.03 925.8L1034.87 924.6L1038.7 924.71L1042.53 923.67L1046.37 921.32L1050.2 921.03L1054.5 919.93L1058.8 918.37L1063.1 916.89L1067.4 914.67" stroke="#1c1cc0" stroke-width="2.7" fill="none" stroke-linejoin="round" clip-path="url(#clipf)"/>
<path d="M729.3 937.3L729.8 940.48L733.83 942.29L737.87 946.16L741.9 947.77L745.73 950.37L749.57 951.5L753.4 954.36L757.2 955.41L761 958.09L764.8 960.01L768.63 962.74L772.47 964.95L776.3 968.21L780.13 971.08L783.97 972.56L787.8 975.82L791.63 978.34L795.47 979.93L799.3 981.42L803.13 984.29L806.97 988.27L810.8 990.12L813.67 994.79L816.55 998.63L819.42 1001.4L822.3 1005.36L825.15 1008.78L828 1012.56L830.85 1015.76L833.7 1019.95L836.77 1023.06L839.83 1025.28L842.9 1029.15L844.05 1032.6L845.2 1037.24L846.35 1042.63L847.5 1047.42L848.49 1051.38L849.47 1055.55L850.46 1059.29L851.44 1062.39L852.43 1066.98L853.41 1071.17L854.4 1073.93L855.17 1079.09L855.93 1083.22L856.7 1087.8L857.47 1092.87L858.23 1097.74L859 1102.76L862.75 1106.18L866.5 1111.3L867.11 1107.23L867.73 1103.54L868.34 1098.45L868.95 1094.38L869.57 1089.97L870.18 1085.96L870.79 1081.68L871.41 1077.75L872.02 1074.12L872.63 1070.65L873.25 1066.1L873.86 1061.53L874.47 1057.43L875.09 1053.7L875.7 1049.06L879.7 1050.4L883.7 1053.18L884.73 1048.61L885.76 1043.66L886.79 1039.35L887.82 1035.13L888.85 1032.09L889.88 1026.65L890.91 1023.13L891.94 1019.36L892.97 1013.8L894 1010.04L897.45 1007.87L900.9 1006.18L904.35 1002.86L907.8 1000.66L910.87 997.21L913.93 993.5L917 990.94L920.45 988.27L923.9 984.86L927.35 981.43L930.8 979.5L934 977.01L937.2 974.37L940.4 971.4L943.6 969.58L946.8 966.78L950.63 964.43L954.47 962.06L958.3 959.33L962.13 957.34L965.97 955.51L969.8 953.06L973.63 950.67L977.47 949.41L981.3 947.53L985.13 944.49L988.97 942.74L992.8 940.91L996.62 939.09L1000.43 938.59L1004.25 936.91L1008.07 935.23L1011.88 934.33L1015.7 931.9L1019.97 930.38L1024.24 928.96L1028.51 927.98L1032.79 927.37L1037.06 925.75L1041.33 923.68L1045.6 922.91" stroke="#1f6f22" stroke-width="2.7" fill="none" stroke-linejoin="round" clip-path="url(#clipf)"/>
<path d="M687.9 915.93L691.8 917.84L695.7 918.86L699.6 919.12L703.5 921.18L707.4 921.99L711.23 922.31L715.07 924.73L718.9 924.91L722.73 926.13L726.57 927.44L730.4 928.82L734.23 929.51L738.07 931.63L741.9 933.17L745.73 934.05L749.57 935.78L753.4 936.87L757.06 938.99L760.72 939.93L764.38 942.02L768.04 944.02L771.7 945.35L775.73 949.44L779.75 951.84L783.77 953.96L787.8 957.52L790.87 959.96L793.93 962.33L797 964.98L800.07 968.08L803.13 970.22L806.2 973.59L809.42 976.28L812.64 978.5L815.86 982.31L819.08 983.9L822.3 986.84L825.04 991.4L827.78 994.23L830.52 998.17L833.26 1002.02L836 1005.51L838.3 1009.27L840.6 1012.97L842.9 1016.62L845.2 1019.7L847.5 1024.44L849.23 1028.3L850.95 1032.57L852.67 1037.67L854.4 1042.84L855.06 1046.84L855.71 1050.85L856.37 1055.14L857.03 1059.04L857.69 1063.85L858.34 1067.73L859 1071.59L859.24 1075.78L859.49 1079.83L859.73 1084.76L859.97 1089.14L860.21 1093.06L860.46 1096.41L860.7 1100.41L860.94 1105.63L861.19 1108.92L861.43 1112.73L861.67 1117.4L861.91 1121.57L862.16 1125.56L862.4 1129.53L862.63 1133.41L862.87 1137.77L863.1 1141.81L863.33 1146.21L863.57 1149.97L863.8 1153.93L864.03 1158.9L864.27 1161.77L864.5 1166.4L864.83 1162.25L865.16 1157.54L865.49 1153.77L865.82 1149.26L866.15 1145.04L866.48 1141.29L866.81 1136.92L867.14 1133.06L867.47 1129.53L867.8 1124.4L868.13 1121.09L868.46 1116.27L868.79 1113.06L869.12 1108.84L869.45 1103.97L869.78 1100.73L870.11 1096.41L870.44 1091.37L870.77 1087.71L871.1 1083.98L871.51 1080.19L871.91 1075.04L872.32 1071.05L872.73 1067.69L873.14 1063.85L873.54 1058.53L873.95 1054.43L874.36 1051.25L874.76 1046.54L875.17 1042.54L875.58 1039.13L875.99 1034.84L876.39 1030.63L876.8 1026.81L878.82 1022.6L880.85 1018.68L882.88 1014.43L884.9 1010.33L887.17 1005.75L889.43 1003.11L891.7 999.28L896.3 995.04L900.9 991.98L905.5 987.72L910.1 985L912.98 982.3L915.85 978.96L918.73 976.26L921.6 973.97L925.43 969.93L929.27 967.3L933.1 963.72L936.52 961.84L939.95 960.24L943.38 957.56L946.8 954.44L950.82 953.3L954.85 950.72L958.88 948.23L962.9 945.6L966.58 943.78L970.26 941.78L973.94 940.55L977.62 937.91L981.3 937.32L985.9 934.44L990.5 933.47L995.1 931.71L999.7 929.71L1003.82 927.75L1007.94 926.13L1012.06 924.14L1016.18 923.2L1020.3 920.9L1024.66 919.11L1029.02 917.69L1033.38 915.83L1037.74 913.73L1042.1 911.93" stroke="#ea8a34" stroke-width="2.7" fill="none" stroke-linejoin="round" clip-path="url(#clipf)"/>
<path d="M936 1072.9H977.7" stroke="#111111" stroke-width="3.0"/>
<text x="983.7" y="1079.1" font-size="17.6" text-anchor="start">Pd/C</text>
<path d="M936 1094.8H977.7" stroke="#d8282c" stroke-width="3.0"/>
<text x="983.7" y="1101" font-size="17.6" text-anchor="start">Pd/C-300C</text>
<path d="M936 1117.3H977.7" stroke="#1c1cc0" stroke-width="3.0"/>
<text x="983.7" y="1123.5" font-size="17.6" text-anchor="start">Pd/C-400C</text>
<path d="M936 1139.2H977.7" stroke="#1f6f22" stroke-width="3.0"/>
<text x="983.7" y="1145.4" font-size="17.6" text-anchor="start">Pd/C-500C</text>
<path d="M936 1161.3H977.7" stroke="#ea8a34" stroke-width="3.0"/>
<text x="983.7" y="1167.5" font-size="17.6" text-anchor="start">Pd/C-600C</text>
<text x="688.4" y="911.6" font-size="21.5" xml:space="preserve">0.1 M HClO<tspan font-size="13" dy="8">4</tspan><tspan dy="-8">, H</tspan><tspan font-size="13" dy="8">2</tspan><tspan dy="-8">, 1 mV/s, 1600 rpm</tspan></text>
<text x="762.1" y="1262" font-size="30">E<tspan font-size="19" dy="11.5">iR-free</tspan></text><text x="844.6" y="1262" font-size="30.6" text-anchor="start">vs. RHE (V)</text>
<g transform="translate(604 1135.5) rotate(-90)"><text x="0" y="0" font-size="30">|i</text><text x="14.46" y="12" font-size="19">k</text><text x="23.96" y="0" font-size="30" xml:space="preserve">| (mA/cm</text><text x="143.92" y="-16.5" font-size="19">2</text><text x="143.92" y="12" font-size="19">Pd</text><text x="167.16" y="0" font-size="30">)</text></g>
<text x="597.5" y="903.4" font-size="37" text-anchor="start">f)</text>
</svg></body></html>
